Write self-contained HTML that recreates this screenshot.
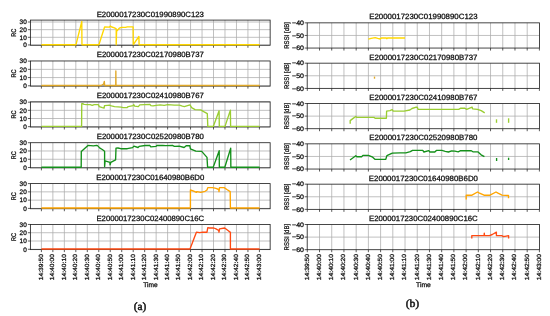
<!DOCTYPE html>
<html><head><meta charset="utf-8"><style>
html,body{margin:0;padding:0;background:#fff;width:550px;height:316px;overflow:hidden}
text{paint-order:stroke}
svg{display:block;will-change:transform}
</style></head><body>
<svg width="550" height="316" viewBox="0 0 550 316">
<rect width="550" height="316" fill="#fff"/>
<line x1="41.40" y1="20.10" x2="41.40" y2="45.25" stroke="#ababab" stroke-width="0.75"/>
<line x1="52.87" y1="20.10" x2="52.87" y2="45.25" stroke="#ababab" stroke-width="0.75"/>
<line x1="64.35" y1="20.10" x2="64.35" y2="45.25" stroke="#ababab" stroke-width="0.75"/>
<line x1="75.82" y1="20.10" x2="75.82" y2="45.25" stroke="#ababab" stroke-width="0.75"/>
<line x1="87.30" y1="20.10" x2="87.30" y2="45.25" stroke="#ababab" stroke-width="0.75"/>
<line x1="98.77" y1="20.10" x2="98.77" y2="45.25" stroke="#ababab" stroke-width="0.75"/>
<line x1="110.24" y1="20.10" x2="110.24" y2="45.25" stroke="#ababab" stroke-width="0.75"/>
<line x1="121.72" y1="20.10" x2="121.72" y2="45.25" stroke="#ababab" stroke-width="0.75"/>
<line x1="133.19" y1="20.10" x2="133.19" y2="45.25" stroke="#ababab" stroke-width="0.75"/>
<line x1="144.67" y1="20.10" x2="144.67" y2="45.25" stroke="#ababab" stroke-width="0.75"/>
<line x1="156.14" y1="20.10" x2="156.14" y2="45.25" stroke="#ababab" stroke-width="0.75"/>
<line x1="167.61" y1="20.10" x2="167.61" y2="45.25" stroke="#ababab" stroke-width="0.75"/>
<line x1="179.09" y1="20.10" x2="179.09" y2="45.25" stroke="#ababab" stroke-width="0.75"/>
<line x1="190.56" y1="20.10" x2="190.56" y2="45.25" stroke="#ababab" stroke-width="0.75"/>
<line x1="202.04" y1="20.10" x2="202.04" y2="45.25" stroke="#ababab" stroke-width="0.75"/>
<line x1="213.51" y1="20.10" x2="213.51" y2="45.25" stroke="#ababab" stroke-width="0.75"/>
<line x1="224.98" y1="20.10" x2="224.98" y2="45.25" stroke="#ababab" stroke-width="0.75"/>
<line x1="236.46" y1="20.10" x2="236.46" y2="45.25" stroke="#ababab" stroke-width="0.75"/>
<line x1="247.93" y1="20.10" x2="247.93" y2="45.25" stroke="#ababab" stroke-width="0.75"/>
<line x1="259.41" y1="20.10" x2="259.41" y2="45.25" stroke="#ababab" stroke-width="0.75"/>
<line x1="30.40" y1="44.94" x2="270.15" y2="44.94" stroke="#ababab" stroke-width="0.75"/>
<line x1="30.40" y1="37.30" x2="270.15" y2="37.30" stroke="#ababab" stroke-width="0.75"/>
<line x1="30.40" y1="29.66" x2="270.15" y2="29.66" stroke="#ababab" stroke-width="0.75"/>
<line x1="30.40" y1="22.01" x2="270.15" y2="22.01" stroke="#ababab" stroke-width="0.75"/>
<rect x="30.40" y="20.10" width="239.75" height="25.15" fill="none" stroke="#262626" stroke-width="0.85"/>
<line x1="41.40" y1="45.25" x2="41.40" y2="47.75" stroke="#262626" stroke-width="0.75"/>
<line x1="52.87" y1="45.25" x2="52.87" y2="47.75" stroke="#262626" stroke-width="0.75"/>
<line x1="64.35" y1="45.25" x2="64.35" y2="47.75" stroke="#262626" stroke-width="0.75"/>
<line x1="75.82" y1="45.25" x2="75.82" y2="47.75" stroke="#262626" stroke-width="0.75"/>
<line x1="87.30" y1="45.25" x2="87.30" y2="47.75" stroke="#262626" stroke-width="0.75"/>
<line x1="98.77" y1="45.25" x2="98.77" y2="47.75" stroke="#262626" stroke-width="0.75"/>
<line x1="110.24" y1="45.25" x2="110.24" y2="47.75" stroke="#262626" stroke-width="0.75"/>
<line x1="121.72" y1="45.25" x2="121.72" y2="47.75" stroke="#262626" stroke-width="0.75"/>
<line x1="133.19" y1="45.25" x2="133.19" y2="47.75" stroke="#262626" stroke-width="0.75"/>
<line x1="144.67" y1="45.25" x2="144.67" y2="47.75" stroke="#262626" stroke-width="0.75"/>
<line x1="156.14" y1="45.25" x2="156.14" y2="47.75" stroke="#262626" stroke-width="0.75"/>
<line x1="167.61" y1="45.25" x2="167.61" y2="47.75" stroke="#262626" stroke-width="0.75"/>
<line x1="179.09" y1="45.25" x2="179.09" y2="47.75" stroke="#262626" stroke-width="0.75"/>
<line x1="190.56" y1="45.25" x2="190.56" y2="47.75" stroke="#262626" stroke-width="0.75"/>
<line x1="202.04" y1="45.25" x2="202.04" y2="47.75" stroke="#262626" stroke-width="0.75"/>
<line x1="213.51" y1="45.25" x2="213.51" y2="47.75" stroke="#262626" stroke-width="0.75"/>
<line x1="224.98" y1="45.25" x2="224.98" y2="47.75" stroke="#262626" stroke-width="0.75"/>
<line x1="236.46" y1="45.25" x2="236.46" y2="47.75" stroke="#262626" stroke-width="0.75"/>
<line x1="247.93" y1="45.25" x2="247.93" y2="47.75" stroke="#262626" stroke-width="0.75"/>
<line x1="259.41" y1="45.25" x2="259.41" y2="47.75" stroke="#262626" stroke-width="0.75"/>
<line x1="27.90" y1="44.94" x2="30.40" y2="44.94" stroke="#262626" stroke-width="0.75"/>
<text transform="translate(26.75,47.25) scale(0.1)" font-size="65.00" text-anchor="end" fill="#111" stroke="#111" stroke-width="2.80" style="text-rendering:geometricPrecision" font-family='"Liberation Sans", sans-serif' textLength="35.74" lengthAdjust="spacingAndGlyphs">0</text>
<line x1="27.90" y1="37.30" x2="30.40" y2="37.30" stroke="#262626" stroke-width="0.75"/>
<text transform="translate(26.75,39.61) scale(0.1)" font-size="65.00" text-anchor="end" fill="#111" stroke="#111" stroke-width="2.80" style="text-rendering:geometricPrecision" font-family='"Liberation Sans", sans-serif' textLength="71.49" lengthAdjust="spacingAndGlyphs">10</text>
<line x1="27.90" y1="29.66" x2="30.40" y2="29.66" stroke="#262626" stroke-width="0.75"/>
<text transform="translate(26.75,31.96) scale(0.1)" font-size="65.00" text-anchor="end" fill="#111" stroke="#111" stroke-width="2.80" style="text-rendering:geometricPrecision" font-family='"Liberation Sans", sans-serif' textLength="71.49" lengthAdjust="spacingAndGlyphs">20</text>
<line x1="27.90" y1="22.01" x2="30.40" y2="22.01" stroke="#262626" stroke-width="0.75"/>
<text transform="translate(26.75,24.32) scale(0.1)" font-size="65.00" text-anchor="end" fill="#111" stroke="#111" stroke-width="2.80" style="text-rendering:geometricPrecision" font-family='"Liberation Sans", sans-serif' textLength="71.49" lengthAdjust="spacingAndGlyphs">30</text>
<text transform="translate(16.35,32.67) rotate(-90) scale(0.1)" font-size="68.00" text-anchor="middle" fill="#111" stroke="#111" stroke-width="2.80" style="text-rendering:geometricPrecision" font-family='"Liberation Sans", sans-serif' textLength="80.79" lengthAdjust="spacingAndGlyphs">RC</text>
<text transform="translate(150.27,16.50) scale(0.1)" font-size="76.00" text-anchor="middle" fill="#111" stroke="#111" stroke-width="2.80" style="text-rendering:geometricPrecision" font-family='"Liberation Sans", sans-serif' textLength="1072.26" lengthAdjust="spacingAndGlyphs">E2000017230C01990890C123</text>
<polyline points="41.40,44.70 76.00,44.70 81.80,21.50 81.95,44.70 98.90,44.70 104.60,27.00 109.20,27.20 110.40,26.00 111.70,27.00 114.50,27.90 116.20,28.90 116.20,44.70 116.60,31.20 119.30,28.20 121.50,27.30 125.40,27.30 127.40,26.80 133.10,26.80 133.30,44.70 138.90,36.50 139.10,44.70 259.60,44.70" fill="none" stroke="#ffd700" stroke-width="1.35" stroke-linejoin="round" stroke-linecap="butt"/>
<line x1="41.40" y1="60.97" x2="41.40" y2="86.12" stroke="#ababab" stroke-width="0.75"/>
<line x1="52.87" y1="60.97" x2="52.87" y2="86.12" stroke="#ababab" stroke-width="0.75"/>
<line x1="64.35" y1="60.97" x2="64.35" y2="86.12" stroke="#ababab" stroke-width="0.75"/>
<line x1="75.82" y1="60.97" x2="75.82" y2="86.12" stroke="#ababab" stroke-width="0.75"/>
<line x1="87.30" y1="60.97" x2="87.30" y2="86.12" stroke="#ababab" stroke-width="0.75"/>
<line x1="98.77" y1="60.97" x2="98.77" y2="86.12" stroke="#ababab" stroke-width="0.75"/>
<line x1="110.24" y1="60.97" x2="110.24" y2="86.12" stroke="#ababab" stroke-width="0.75"/>
<line x1="121.72" y1="60.97" x2="121.72" y2="86.12" stroke="#ababab" stroke-width="0.75"/>
<line x1="133.19" y1="60.97" x2="133.19" y2="86.12" stroke="#ababab" stroke-width="0.75"/>
<line x1="144.67" y1="60.97" x2="144.67" y2="86.12" stroke="#ababab" stroke-width="0.75"/>
<line x1="156.14" y1="60.97" x2="156.14" y2="86.12" stroke="#ababab" stroke-width="0.75"/>
<line x1="167.61" y1="60.97" x2="167.61" y2="86.12" stroke="#ababab" stroke-width="0.75"/>
<line x1="179.09" y1="60.97" x2="179.09" y2="86.12" stroke="#ababab" stroke-width="0.75"/>
<line x1="190.56" y1="60.97" x2="190.56" y2="86.12" stroke="#ababab" stroke-width="0.75"/>
<line x1="202.04" y1="60.97" x2="202.04" y2="86.12" stroke="#ababab" stroke-width="0.75"/>
<line x1="213.51" y1="60.97" x2="213.51" y2="86.12" stroke="#ababab" stroke-width="0.75"/>
<line x1="224.98" y1="60.97" x2="224.98" y2="86.12" stroke="#ababab" stroke-width="0.75"/>
<line x1="236.46" y1="60.97" x2="236.46" y2="86.12" stroke="#ababab" stroke-width="0.75"/>
<line x1="247.93" y1="60.97" x2="247.93" y2="86.12" stroke="#ababab" stroke-width="0.75"/>
<line x1="259.41" y1="60.97" x2="259.41" y2="86.12" stroke="#ababab" stroke-width="0.75"/>
<line x1="30.40" y1="85.79" x2="270.15" y2="85.79" stroke="#ababab" stroke-width="0.75"/>
<line x1="30.40" y1="77.57" x2="270.15" y2="77.57" stroke="#ababab" stroke-width="0.75"/>
<line x1="30.40" y1="69.35" x2="270.15" y2="69.35" stroke="#ababab" stroke-width="0.75"/>
<rect x="30.40" y="60.97" width="239.75" height="25.15" fill="none" stroke="#262626" stroke-width="0.85"/>
<line x1="41.40" y1="86.12" x2="41.40" y2="88.62" stroke="#262626" stroke-width="0.75"/>
<line x1="52.87" y1="86.12" x2="52.87" y2="88.62" stroke="#262626" stroke-width="0.75"/>
<line x1="64.35" y1="86.12" x2="64.35" y2="88.62" stroke="#262626" stroke-width="0.75"/>
<line x1="75.82" y1="86.12" x2="75.82" y2="88.62" stroke="#262626" stroke-width="0.75"/>
<line x1="87.30" y1="86.12" x2="87.30" y2="88.62" stroke="#262626" stroke-width="0.75"/>
<line x1="98.77" y1="86.12" x2="98.77" y2="88.62" stroke="#262626" stroke-width="0.75"/>
<line x1="110.24" y1="86.12" x2="110.24" y2="88.62" stroke="#262626" stroke-width="0.75"/>
<line x1="121.72" y1="86.12" x2="121.72" y2="88.62" stroke="#262626" stroke-width="0.75"/>
<line x1="133.19" y1="86.12" x2="133.19" y2="88.62" stroke="#262626" stroke-width="0.75"/>
<line x1="144.67" y1="86.12" x2="144.67" y2="88.62" stroke="#262626" stroke-width="0.75"/>
<line x1="156.14" y1="86.12" x2="156.14" y2="88.62" stroke="#262626" stroke-width="0.75"/>
<line x1="167.61" y1="86.12" x2="167.61" y2="88.62" stroke="#262626" stroke-width="0.75"/>
<line x1="179.09" y1="86.12" x2="179.09" y2="88.62" stroke="#262626" stroke-width="0.75"/>
<line x1="190.56" y1="86.12" x2="190.56" y2="88.62" stroke="#262626" stroke-width="0.75"/>
<line x1="202.04" y1="86.12" x2="202.04" y2="88.62" stroke="#262626" stroke-width="0.75"/>
<line x1="213.51" y1="86.12" x2="213.51" y2="88.62" stroke="#262626" stroke-width="0.75"/>
<line x1="224.98" y1="86.12" x2="224.98" y2="88.62" stroke="#262626" stroke-width="0.75"/>
<line x1="236.46" y1="86.12" x2="236.46" y2="88.62" stroke="#262626" stroke-width="0.75"/>
<line x1="247.93" y1="86.12" x2="247.93" y2="88.62" stroke="#262626" stroke-width="0.75"/>
<line x1="259.41" y1="86.12" x2="259.41" y2="88.62" stroke="#262626" stroke-width="0.75"/>
<line x1="27.90" y1="85.79" x2="30.40" y2="85.79" stroke="#262626" stroke-width="0.75"/>
<text transform="translate(26.75,88.10) scale(0.1)" font-size="65.00" text-anchor="end" fill="#111" stroke="#111" stroke-width="2.80" style="text-rendering:geometricPrecision" font-family='"Liberation Sans", sans-serif' textLength="35.74" lengthAdjust="spacingAndGlyphs">0</text>
<line x1="27.90" y1="77.57" x2="30.40" y2="77.57" stroke="#262626" stroke-width="0.75"/>
<text transform="translate(26.75,79.88) scale(0.1)" font-size="65.00" text-anchor="end" fill="#111" stroke="#111" stroke-width="2.80" style="text-rendering:geometricPrecision" font-family='"Liberation Sans", sans-serif' textLength="71.49" lengthAdjust="spacingAndGlyphs">10</text>
<line x1="27.90" y1="69.35" x2="30.40" y2="69.35" stroke="#262626" stroke-width="0.75"/>
<text transform="translate(26.75,71.66) scale(0.1)" font-size="65.00" text-anchor="end" fill="#111" stroke="#111" stroke-width="2.80" style="text-rendering:geometricPrecision" font-family='"Liberation Sans", sans-serif' textLength="71.49" lengthAdjust="spacingAndGlyphs">20</text>
<line x1="27.90" y1="61.13" x2="30.40" y2="61.13" stroke="#262626" stroke-width="0.75"/>
<text transform="translate(26.75,63.44) scale(0.1)" font-size="65.00" text-anchor="end" fill="#111" stroke="#111" stroke-width="2.80" style="text-rendering:geometricPrecision" font-family='"Liberation Sans", sans-serif' textLength="71.49" lengthAdjust="spacingAndGlyphs">30</text>
<text transform="translate(16.35,73.55) rotate(-90) scale(0.1)" font-size="68.00" text-anchor="middle" fill="#111" stroke="#111" stroke-width="2.80" style="text-rendering:geometricPrecision" font-family='"Liberation Sans", sans-serif' textLength="80.79" lengthAdjust="spacingAndGlyphs">RC</text>
<text transform="translate(150.27,57.37) scale(0.1)" font-size="76.00" text-anchor="middle" fill="#111" stroke="#111" stroke-width="2.80" style="text-rendering:geometricPrecision" font-family='"Liberation Sans", sans-serif' textLength="1071.43" lengthAdjust="spacingAndGlyphs">E2000017230C02170980B737</text>
<polyline points="41.40,85.50 101.00,85.50 103.60,84.10 104.30,81.40 104.70,85.50 115.75,85.50 115.85,70.90 116.00,85.50 259.70,85.50" fill="none" stroke="#e0a828" stroke-width="1.35" stroke-linejoin="round" stroke-linecap="butt"/>
<line x1="41.40" y1="101.84" x2="41.40" y2="126.99" stroke="#ababab" stroke-width="0.75"/>
<line x1="52.87" y1="101.84" x2="52.87" y2="126.99" stroke="#ababab" stroke-width="0.75"/>
<line x1="64.35" y1="101.84" x2="64.35" y2="126.99" stroke="#ababab" stroke-width="0.75"/>
<line x1="75.82" y1="101.84" x2="75.82" y2="126.99" stroke="#ababab" stroke-width="0.75"/>
<line x1="87.30" y1="101.84" x2="87.30" y2="126.99" stroke="#ababab" stroke-width="0.75"/>
<line x1="98.77" y1="101.84" x2="98.77" y2="126.99" stroke="#ababab" stroke-width="0.75"/>
<line x1="110.24" y1="101.84" x2="110.24" y2="126.99" stroke="#ababab" stroke-width="0.75"/>
<line x1="121.72" y1="101.84" x2="121.72" y2="126.99" stroke="#ababab" stroke-width="0.75"/>
<line x1="133.19" y1="101.84" x2="133.19" y2="126.99" stroke="#ababab" stroke-width="0.75"/>
<line x1="144.67" y1="101.84" x2="144.67" y2="126.99" stroke="#ababab" stroke-width="0.75"/>
<line x1="156.14" y1="101.84" x2="156.14" y2="126.99" stroke="#ababab" stroke-width="0.75"/>
<line x1="167.61" y1="101.84" x2="167.61" y2="126.99" stroke="#ababab" stroke-width="0.75"/>
<line x1="179.09" y1="101.84" x2="179.09" y2="126.99" stroke="#ababab" stroke-width="0.75"/>
<line x1="190.56" y1="101.84" x2="190.56" y2="126.99" stroke="#ababab" stroke-width="0.75"/>
<line x1="202.04" y1="101.84" x2="202.04" y2="126.99" stroke="#ababab" stroke-width="0.75"/>
<line x1="213.51" y1="101.84" x2="213.51" y2="126.99" stroke="#ababab" stroke-width="0.75"/>
<line x1="224.98" y1="101.84" x2="224.98" y2="126.99" stroke="#ababab" stroke-width="0.75"/>
<line x1="236.46" y1="101.84" x2="236.46" y2="126.99" stroke="#ababab" stroke-width="0.75"/>
<line x1="247.93" y1="101.84" x2="247.93" y2="126.99" stroke="#ababab" stroke-width="0.75"/>
<line x1="259.41" y1="101.84" x2="259.41" y2="126.99" stroke="#ababab" stroke-width="0.75"/>
<line x1="30.40" y1="126.66" x2="270.15" y2="126.66" stroke="#ababab" stroke-width="0.75"/>
<line x1="30.40" y1="118.50" x2="270.15" y2="118.50" stroke="#ababab" stroke-width="0.75"/>
<line x1="30.40" y1="110.33" x2="270.15" y2="110.33" stroke="#ababab" stroke-width="0.75"/>
<line x1="30.40" y1="102.17" x2="270.15" y2="102.17" stroke="#ababab" stroke-width="0.75"/>
<rect x="30.40" y="101.84" width="239.75" height="25.15" fill="none" stroke="#262626" stroke-width="0.85"/>
<line x1="41.40" y1="126.99" x2="41.40" y2="129.49" stroke="#262626" stroke-width="0.75"/>
<line x1="52.87" y1="126.99" x2="52.87" y2="129.49" stroke="#262626" stroke-width="0.75"/>
<line x1="64.35" y1="126.99" x2="64.35" y2="129.49" stroke="#262626" stroke-width="0.75"/>
<line x1="75.82" y1="126.99" x2="75.82" y2="129.49" stroke="#262626" stroke-width="0.75"/>
<line x1="87.30" y1="126.99" x2="87.30" y2="129.49" stroke="#262626" stroke-width="0.75"/>
<line x1="98.77" y1="126.99" x2="98.77" y2="129.49" stroke="#262626" stroke-width="0.75"/>
<line x1="110.24" y1="126.99" x2="110.24" y2="129.49" stroke="#262626" stroke-width="0.75"/>
<line x1="121.72" y1="126.99" x2="121.72" y2="129.49" stroke="#262626" stroke-width="0.75"/>
<line x1="133.19" y1="126.99" x2="133.19" y2="129.49" stroke="#262626" stroke-width="0.75"/>
<line x1="144.67" y1="126.99" x2="144.67" y2="129.49" stroke="#262626" stroke-width="0.75"/>
<line x1="156.14" y1="126.99" x2="156.14" y2="129.49" stroke="#262626" stroke-width="0.75"/>
<line x1="167.61" y1="126.99" x2="167.61" y2="129.49" stroke="#262626" stroke-width="0.75"/>
<line x1="179.09" y1="126.99" x2="179.09" y2="129.49" stroke="#262626" stroke-width="0.75"/>
<line x1="190.56" y1="126.99" x2="190.56" y2="129.49" stroke="#262626" stroke-width="0.75"/>
<line x1="202.04" y1="126.99" x2="202.04" y2="129.49" stroke="#262626" stroke-width="0.75"/>
<line x1="213.51" y1="126.99" x2="213.51" y2="129.49" stroke="#262626" stroke-width="0.75"/>
<line x1="224.98" y1="126.99" x2="224.98" y2="129.49" stroke="#262626" stroke-width="0.75"/>
<line x1="236.46" y1="126.99" x2="236.46" y2="129.49" stroke="#262626" stroke-width="0.75"/>
<line x1="247.93" y1="126.99" x2="247.93" y2="129.49" stroke="#262626" stroke-width="0.75"/>
<line x1="259.41" y1="126.99" x2="259.41" y2="129.49" stroke="#262626" stroke-width="0.75"/>
<line x1="27.90" y1="126.66" x2="30.40" y2="126.66" stroke="#262626" stroke-width="0.75"/>
<text transform="translate(26.75,128.97) scale(0.1)" font-size="65.00" text-anchor="end" fill="#111" stroke="#111" stroke-width="2.80" style="text-rendering:geometricPrecision" font-family='"Liberation Sans", sans-serif' textLength="35.74" lengthAdjust="spacingAndGlyphs">0</text>
<line x1="27.90" y1="118.50" x2="30.40" y2="118.50" stroke="#262626" stroke-width="0.75"/>
<text transform="translate(26.75,120.81) scale(0.1)" font-size="65.00" text-anchor="end" fill="#111" stroke="#111" stroke-width="2.80" style="text-rendering:geometricPrecision" font-family='"Liberation Sans", sans-serif' textLength="71.49" lengthAdjust="spacingAndGlyphs">10</text>
<line x1="27.90" y1="110.33" x2="30.40" y2="110.33" stroke="#262626" stroke-width="0.75"/>
<text transform="translate(26.75,112.64) scale(0.1)" font-size="65.00" text-anchor="end" fill="#111" stroke="#111" stroke-width="2.80" style="text-rendering:geometricPrecision" font-family='"Liberation Sans", sans-serif' textLength="71.49" lengthAdjust="spacingAndGlyphs">20</text>
<line x1="27.90" y1="102.17" x2="30.40" y2="102.17" stroke="#262626" stroke-width="0.75"/>
<text transform="translate(26.75,104.47) scale(0.1)" font-size="65.00" text-anchor="end" fill="#111" stroke="#111" stroke-width="2.80" style="text-rendering:geometricPrecision" font-family='"Liberation Sans", sans-serif' textLength="71.49" lengthAdjust="spacingAndGlyphs">30</text>
<text transform="translate(16.35,114.42) rotate(-90) scale(0.1)" font-size="68.00" text-anchor="middle" fill="#111" stroke="#111" stroke-width="2.80" style="text-rendering:geometricPrecision" font-family='"Liberation Sans", sans-serif' textLength="80.79" lengthAdjust="spacingAndGlyphs">RC</text>
<text transform="translate(150.27,98.24) scale(0.1)" font-size="76.00" text-anchor="middle" fill="#111" stroke="#111" stroke-width="2.80" style="text-rendering:geometricPrecision" font-family='"Liberation Sans", sans-serif' textLength="1071.43" lengthAdjust="spacingAndGlyphs">E2000017230C02410980B767</text>
<polyline points="41.40,126.40 81.60,126.40 81.75,103.60 82.60,103.60 84.10,104.30 87.10,104.60 90.20,104.60 92.20,105.30 94.20,104.60 98.30,104.60 99.30,106.60 102.30,107.60 104.10,108.10 104.50,105.60 107.40,105.30 109.40,105.10 111.40,105.90 114.50,106.60 118.00,106.90 121.10,107.10 123.10,107.60 127.20,107.60 128.20,106.60 133.20,105.60 133.70,104.60 134.70,106.10 138.30,106.60 139.80,104.90 144.40,104.60 149.90,104.30 150.90,105.60 153.00,105.90 156.10,105.30 160.10,104.90 164.20,105.30 167.70,104.60 174.30,105.10 179.40,105.10 182.40,106.10 184.40,106.60 187.50,105.60 190.00,104.90 191.60,107.60 195.10,109.60 200.70,109.90 203.70,111.70 207.30,113.70 207.80,126.40 213.30,126.40 219.10,110.80 219.30,126.40 225.00,126.40 230.40,110.10 230.60,126.40 259.60,126.40" fill="none" stroke="#9acd32" stroke-width="1.35" stroke-linejoin="round" stroke-linecap="butt"/>
<line x1="41.40" y1="142.71" x2="41.40" y2="167.86" stroke="#ababab" stroke-width="0.75"/>
<line x1="52.87" y1="142.71" x2="52.87" y2="167.86" stroke="#ababab" stroke-width="0.75"/>
<line x1="64.35" y1="142.71" x2="64.35" y2="167.86" stroke="#ababab" stroke-width="0.75"/>
<line x1="75.82" y1="142.71" x2="75.82" y2="167.86" stroke="#ababab" stroke-width="0.75"/>
<line x1="87.30" y1="142.71" x2="87.30" y2="167.86" stroke="#ababab" stroke-width="0.75"/>
<line x1="98.77" y1="142.71" x2="98.77" y2="167.86" stroke="#ababab" stroke-width="0.75"/>
<line x1="110.24" y1="142.71" x2="110.24" y2="167.86" stroke="#ababab" stroke-width="0.75"/>
<line x1="121.72" y1="142.71" x2="121.72" y2="167.86" stroke="#ababab" stroke-width="0.75"/>
<line x1="133.19" y1="142.71" x2="133.19" y2="167.86" stroke="#ababab" stroke-width="0.75"/>
<line x1="144.67" y1="142.71" x2="144.67" y2="167.86" stroke="#ababab" stroke-width="0.75"/>
<line x1="156.14" y1="142.71" x2="156.14" y2="167.86" stroke="#ababab" stroke-width="0.75"/>
<line x1="167.61" y1="142.71" x2="167.61" y2="167.86" stroke="#ababab" stroke-width="0.75"/>
<line x1="179.09" y1="142.71" x2="179.09" y2="167.86" stroke="#ababab" stroke-width="0.75"/>
<line x1="190.56" y1="142.71" x2="190.56" y2="167.86" stroke="#ababab" stroke-width="0.75"/>
<line x1="202.04" y1="142.71" x2="202.04" y2="167.86" stroke="#ababab" stroke-width="0.75"/>
<line x1="213.51" y1="142.71" x2="213.51" y2="167.86" stroke="#ababab" stroke-width="0.75"/>
<line x1="224.98" y1="142.71" x2="224.98" y2="167.86" stroke="#ababab" stroke-width="0.75"/>
<line x1="236.46" y1="142.71" x2="236.46" y2="167.86" stroke="#ababab" stroke-width="0.75"/>
<line x1="247.93" y1="142.71" x2="247.93" y2="167.86" stroke="#ababab" stroke-width="0.75"/>
<line x1="259.41" y1="142.71" x2="259.41" y2="167.86" stroke="#ababab" stroke-width="0.75"/>
<line x1="30.40" y1="167.53" x2="270.15" y2="167.53" stroke="#ababab" stroke-width="0.75"/>
<line x1="30.40" y1="159.26" x2="270.15" y2="159.26" stroke="#ababab" stroke-width="0.75"/>
<line x1="30.40" y1="150.98" x2="270.15" y2="150.98" stroke="#ababab" stroke-width="0.75"/>
<rect x="30.40" y="142.71" width="239.75" height="25.15" fill="none" stroke="#262626" stroke-width="0.85"/>
<line x1="41.40" y1="167.86" x2="41.40" y2="170.36" stroke="#262626" stroke-width="0.75"/>
<line x1="52.87" y1="167.86" x2="52.87" y2="170.36" stroke="#262626" stroke-width="0.75"/>
<line x1="64.35" y1="167.86" x2="64.35" y2="170.36" stroke="#262626" stroke-width="0.75"/>
<line x1="75.82" y1="167.86" x2="75.82" y2="170.36" stroke="#262626" stroke-width="0.75"/>
<line x1="87.30" y1="167.86" x2="87.30" y2="170.36" stroke="#262626" stroke-width="0.75"/>
<line x1="98.77" y1="167.86" x2="98.77" y2="170.36" stroke="#262626" stroke-width="0.75"/>
<line x1="110.24" y1="167.86" x2="110.24" y2="170.36" stroke="#262626" stroke-width="0.75"/>
<line x1="121.72" y1="167.86" x2="121.72" y2="170.36" stroke="#262626" stroke-width="0.75"/>
<line x1="133.19" y1="167.86" x2="133.19" y2="170.36" stroke="#262626" stroke-width="0.75"/>
<line x1="144.67" y1="167.86" x2="144.67" y2="170.36" stroke="#262626" stroke-width="0.75"/>
<line x1="156.14" y1="167.86" x2="156.14" y2="170.36" stroke="#262626" stroke-width="0.75"/>
<line x1="167.61" y1="167.86" x2="167.61" y2="170.36" stroke="#262626" stroke-width="0.75"/>
<line x1="179.09" y1="167.86" x2="179.09" y2="170.36" stroke="#262626" stroke-width="0.75"/>
<line x1="190.56" y1="167.86" x2="190.56" y2="170.36" stroke="#262626" stroke-width="0.75"/>
<line x1="202.04" y1="167.86" x2="202.04" y2="170.36" stroke="#262626" stroke-width="0.75"/>
<line x1="213.51" y1="167.86" x2="213.51" y2="170.36" stroke="#262626" stroke-width="0.75"/>
<line x1="224.98" y1="167.86" x2="224.98" y2="170.36" stroke="#262626" stroke-width="0.75"/>
<line x1="236.46" y1="167.86" x2="236.46" y2="170.36" stroke="#262626" stroke-width="0.75"/>
<line x1="247.93" y1="167.86" x2="247.93" y2="170.36" stroke="#262626" stroke-width="0.75"/>
<line x1="259.41" y1="167.86" x2="259.41" y2="170.36" stroke="#262626" stroke-width="0.75"/>
<line x1="27.90" y1="167.53" x2="30.40" y2="167.53" stroke="#262626" stroke-width="0.75"/>
<text transform="translate(26.75,169.84) scale(0.1)" font-size="65.00" text-anchor="end" fill="#111" stroke="#111" stroke-width="2.80" style="text-rendering:geometricPrecision" font-family='"Liberation Sans", sans-serif' textLength="35.74" lengthAdjust="spacingAndGlyphs">0</text>
<line x1="27.90" y1="159.26" x2="30.40" y2="159.26" stroke="#262626" stroke-width="0.75"/>
<text transform="translate(26.75,161.56) scale(0.1)" font-size="65.00" text-anchor="end" fill="#111" stroke="#111" stroke-width="2.80" style="text-rendering:geometricPrecision" font-family='"Liberation Sans", sans-serif' textLength="71.49" lengthAdjust="spacingAndGlyphs">10</text>
<line x1="27.90" y1="150.98" x2="30.40" y2="150.98" stroke="#262626" stroke-width="0.75"/>
<text transform="translate(26.75,153.29) scale(0.1)" font-size="65.00" text-anchor="end" fill="#111" stroke="#111" stroke-width="2.80" style="text-rendering:geometricPrecision" font-family='"Liberation Sans", sans-serif' textLength="71.49" lengthAdjust="spacingAndGlyphs">20</text>
<line x1="27.90" y1="142.71" x2="30.40" y2="142.71" stroke="#262626" stroke-width="0.75"/>
<text transform="translate(26.75,145.02) scale(0.1)" font-size="65.00" text-anchor="end" fill="#111" stroke="#111" stroke-width="2.80" style="text-rendering:geometricPrecision" font-family='"Liberation Sans", sans-serif' textLength="71.49" lengthAdjust="spacingAndGlyphs">30</text>
<text transform="translate(16.35,155.28) rotate(-90) scale(0.1)" font-size="68.00" text-anchor="middle" fill="#111" stroke="#111" stroke-width="2.80" style="text-rendering:geometricPrecision" font-family='"Liberation Sans", sans-serif' textLength="80.79" lengthAdjust="spacingAndGlyphs">RC</text>
<text transform="translate(150.27,139.11) scale(0.1)" font-size="76.00" text-anchor="middle" fill="#111" stroke="#111" stroke-width="2.80" style="text-rendering:geometricPrecision" font-family='"Liberation Sans", sans-serif' textLength="1071.43" lengthAdjust="spacingAndGlyphs">E2000017230C02520980B780</text>
<polyline points="41.40,167.20 81.20,167.20 81.30,151.60 88.00,145.40 93.40,145.90 96.70,145.40 97.50,145.60 99.90,148.10 102.30,149.50 104.60,151.20 104.60,166.60 105.10,160.90 109.90,162.30 110.10,164.90 110.80,162.30 115.60,159.90 116.00,148.10 117.90,148.00 120.80,148.70 127.30,148.70 132.60,147.60 133.90,146.10 138.00,147.50 139.10,146.40 145.00,145.50 149.70,145.30 150.80,146.80 156.10,146.40 156.70,145.50 162.60,145.30 165.80,145.70 172.30,145.30 174.40,146.40 179.20,146.10 184.10,147.50 186.20,145.70 189.80,145.70 190.40,148.80 195.80,151.10 201.70,151.40 207.00,157.40 207.60,167.20 213.20,167.20 219.20,150.70 219.35,167.20 224.80,167.20 230.70,148.20 230.85,167.20 259.60,167.20" fill="none" stroke="#14901a" stroke-width="1.35" stroke-linejoin="round" stroke-linecap="butt"/>
<line x1="41.40" y1="183.58" x2="41.40" y2="208.73" stroke="#ababab" stroke-width="0.75"/>
<line x1="52.87" y1="183.58" x2="52.87" y2="208.73" stroke="#ababab" stroke-width="0.75"/>
<line x1="64.35" y1="183.58" x2="64.35" y2="208.73" stroke="#ababab" stroke-width="0.75"/>
<line x1="75.82" y1="183.58" x2="75.82" y2="208.73" stroke="#ababab" stroke-width="0.75"/>
<line x1="87.30" y1="183.58" x2="87.30" y2="208.73" stroke="#ababab" stroke-width="0.75"/>
<line x1="98.77" y1="183.58" x2="98.77" y2="208.73" stroke="#ababab" stroke-width="0.75"/>
<line x1="110.24" y1="183.58" x2="110.24" y2="208.73" stroke="#ababab" stroke-width="0.75"/>
<line x1="121.72" y1="183.58" x2="121.72" y2="208.73" stroke="#ababab" stroke-width="0.75"/>
<line x1="133.19" y1="183.58" x2="133.19" y2="208.73" stroke="#ababab" stroke-width="0.75"/>
<line x1="144.67" y1="183.58" x2="144.67" y2="208.73" stroke="#ababab" stroke-width="0.75"/>
<line x1="156.14" y1="183.58" x2="156.14" y2="208.73" stroke="#ababab" stroke-width="0.75"/>
<line x1="167.61" y1="183.58" x2="167.61" y2="208.73" stroke="#ababab" stroke-width="0.75"/>
<line x1="179.09" y1="183.58" x2="179.09" y2="208.73" stroke="#ababab" stroke-width="0.75"/>
<line x1="190.56" y1="183.58" x2="190.56" y2="208.73" stroke="#ababab" stroke-width="0.75"/>
<line x1="202.04" y1="183.58" x2="202.04" y2="208.73" stroke="#ababab" stroke-width="0.75"/>
<line x1="213.51" y1="183.58" x2="213.51" y2="208.73" stroke="#ababab" stroke-width="0.75"/>
<line x1="224.98" y1="183.58" x2="224.98" y2="208.73" stroke="#ababab" stroke-width="0.75"/>
<line x1="236.46" y1="183.58" x2="236.46" y2="208.73" stroke="#ababab" stroke-width="0.75"/>
<line x1="247.93" y1="183.58" x2="247.93" y2="208.73" stroke="#ababab" stroke-width="0.75"/>
<line x1="259.41" y1="183.58" x2="259.41" y2="208.73" stroke="#ababab" stroke-width="0.75"/>
<line x1="30.40" y1="208.40" x2="270.15" y2="208.40" stroke="#ababab" stroke-width="0.75"/>
<line x1="30.40" y1="200.13" x2="270.15" y2="200.13" stroke="#ababab" stroke-width="0.75"/>
<line x1="30.40" y1="191.85" x2="270.15" y2="191.85" stroke="#ababab" stroke-width="0.75"/>
<rect x="30.40" y="183.58" width="239.75" height="25.15" fill="none" stroke="#262626" stroke-width="0.85"/>
<line x1="41.40" y1="208.73" x2="41.40" y2="211.23" stroke="#262626" stroke-width="0.75"/>
<line x1="52.87" y1="208.73" x2="52.87" y2="211.23" stroke="#262626" stroke-width="0.75"/>
<line x1="64.35" y1="208.73" x2="64.35" y2="211.23" stroke="#262626" stroke-width="0.75"/>
<line x1="75.82" y1="208.73" x2="75.82" y2="211.23" stroke="#262626" stroke-width="0.75"/>
<line x1="87.30" y1="208.73" x2="87.30" y2="211.23" stroke="#262626" stroke-width="0.75"/>
<line x1="98.77" y1="208.73" x2="98.77" y2="211.23" stroke="#262626" stroke-width="0.75"/>
<line x1="110.24" y1="208.73" x2="110.24" y2="211.23" stroke="#262626" stroke-width="0.75"/>
<line x1="121.72" y1="208.73" x2="121.72" y2="211.23" stroke="#262626" stroke-width="0.75"/>
<line x1="133.19" y1="208.73" x2="133.19" y2="211.23" stroke="#262626" stroke-width="0.75"/>
<line x1="144.67" y1="208.73" x2="144.67" y2="211.23" stroke="#262626" stroke-width="0.75"/>
<line x1="156.14" y1="208.73" x2="156.14" y2="211.23" stroke="#262626" stroke-width="0.75"/>
<line x1="167.61" y1="208.73" x2="167.61" y2="211.23" stroke="#262626" stroke-width="0.75"/>
<line x1="179.09" y1="208.73" x2="179.09" y2="211.23" stroke="#262626" stroke-width="0.75"/>
<line x1="190.56" y1="208.73" x2="190.56" y2="211.23" stroke="#262626" stroke-width="0.75"/>
<line x1="202.04" y1="208.73" x2="202.04" y2="211.23" stroke="#262626" stroke-width="0.75"/>
<line x1="213.51" y1="208.73" x2="213.51" y2="211.23" stroke="#262626" stroke-width="0.75"/>
<line x1="224.98" y1="208.73" x2="224.98" y2="211.23" stroke="#262626" stroke-width="0.75"/>
<line x1="236.46" y1="208.73" x2="236.46" y2="211.23" stroke="#262626" stroke-width="0.75"/>
<line x1="247.93" y1="208.73" x2="247.93" y2="211.23" stroke="#262626" stroke-width="0.75"/>
<line x1="259.41" y1="208.73" x2="259.41" y2="211.23" stroke="#262626" stroke-width="0.75"/>
<line x1="27.90" y1="208.40" x2="30.40" y2="208.40" stroke="#262626" stroke-width="0.75"/>
<text transform="translate(26.75,210.71) scale(0.1)" font-size="65.00" text-anchor="end" fill="#111" stroke="#111" stroke-width="2.80" style="text-rendering:geometricPrecision" font-family='"Liberation Sans", sans-serif' textLength="35.74" lengthAdjust="spacingAndGlyphs">0</text>
<line x1="27.90" y1="200.13" x2="30.40" y2="200.13" stroke="#262626" stroke-width="0.75"/>
<text transform="translate(26.75,202.43) scale(0.1)" font-size="65.00" text-anchor="end" fill="#111" stroke="#111" stroke-width="2.80" style="text-rendering:geometricPrecision" font-family='"Liberation Sans", sans-serif' textLength="71.49" lengthAdjust="spacingAndGlyphs">10</text>
<line x1="27.90" y1="191.85" x2="30.40" y2="191.85" stroke="#262626" stroke-width="0.75"/>
<text transform="translate(26.75,194.16) scale(0.1)" font-size="65.00" text-anchor="end" fill="#111" stroke="#111" stroke-width="2.80" style="text-rendering:geometricPrecision" font-family='"Liberation Sans", sans-serif' textLength="71.49" lengthAdjust="spacingAndGlyphs">20</text>
<line x1="27.90" y1="183.58" x2="30.40" y2="183.58" stroke="#262626" stroke-width="0.75"/>
<text transform="translate(26.75,185.89) scale(0.1)" font-size="65.00" text-anchor="end" fill="#111" stroke="#111" stroke-width="2.80" style="text-rendering:geometricPrecision" font-family='"Liberation Sans", sans-serif' textLength="71.49" lengthAdjust="spacingAndGlyphs">30</text>
<text transform="translate(16.35,196.15) rotate(-90) scale(0.1)" font-size="68.00" text-anchor="middle" fill="#111" stroke="#111" stroke-width="2.80" style="text-rendering:geometricPrecision" font-family='"Liberation Sans", sans-serif' textLength="80.79" lengthAdjust="spacingAndGlyphs">RC</text>
<text transform="translate(150.27,179.98) scale(0.1)" font-size="76.00" text-anchor="middle" fill="#111" stroke="#111" stroke-width="2.80" style="text-rendering:geometricPrecision" font-family='"Liberation Sans", sans-serif' textLength="1080.77" lengthAdjust="spacingAndGlyphs">E2000017230C01640980B6D0</text>
<polyline points="41.40,208.00 190.40,208.00 190.40,190.00 193.10,190.90 196.40,192.40 196.90,191.60 200.70,192.40 205.10,191.30 207.00,190.00 207.80,187.60 212.70,187.60 216.00,188.40 218.70,189.50 219.00,191.60 219.50,187.60 224.20,187.60 226.90,189.50 230.20,191.60 230.40,208.00 259.60,208.00" fill="none" stroke="#ffa500" stroke-width="1.35" stroke-linejoin="round" stroke-linecap="butt"/>
<line x1="41.40" y1="224.45" x2="41.40" y2="249.60" stroke="#ababab" stroke-width="0.75"/>
<line x1="52.87" y1="224.45" x2="52.87" y2="249.60" stroke="#ababab" stroke-width="0.75"/>
<line x1="64.35" y1="224.45" x2="64.35" y2="249.60" stroke="#ababab" stroke-width="0.75"/>
<line x1="75.82" y1="224.45" x2="75.82" y2="249.60" stroke="#ababab" stroke-width="0.75"/>
<line x1="87.30" y1="224.45" x2="87.30" y2="249.60" stroke="#ababab" stroke-width="0.75"/>
<line x1="98.77" y1="224.45" x2="98.77" y2="249.60" stroke="#ababab" stroke-width="0.75"/>
<line x1="110.24" y1="224.45" x2="110.24" y2="249.60" stroke="#ababab" stroke-width="0.75"/>
<line x1="121.72" y1="224.45" x2="121.72" y2="249.60" stroke="#ababab" stroke-width="0.75"/>
<line x1="133.19" y1="224.45" x2="133.19" y2="249.60" stroke="#ababab" stroke-width="0.75"/>
<line x1="144.67" y1="224.45" x2="144.67" y2="249.60" stroke="#ababab" stroke-width="0.75"/>
<line x1="156.14" y1="224.45" x2="156.14" y2="249.60" stroke="#ababab" stroke-width="0.75"/>
<line x1="167.61" y1="224.45" x2="167.61" y2="249.60" stroke="#ababab" stroke-width="0.75"/>
<line x1="179.09" y1="224.45" x2="179.09" y2="249.60" stroke="#ababab" stroke-width="0.75"/>
<line x1="190.56" y1="224.45" x2="190.56" y2="249.60" stroke="#ababab" stroke-width="0.75"/>
<line x1="202.04" y1="224.45" x2="202.04" y2="249.60" stroke="#ababab" stroke-width="0.75"/>
<line x1="213.51" y1="224.45" x2="213.51" y2="249.60" stroke="#ababab" stroke-width="0.75"/>
<line x1="224.98" y1="224.45" x2="224.98" y2="249.60" stroke="#ababab" stroke-width="0.75"/>
<line x1="236.46" y1="224.45" x2="236.46" y2="249.60" stroke="#ababab" stroke-width="0.75"/>
<line x1="247.93" y1="224.45" x2="247.93" y2="249.60" stroke="#ababab" stroke-width="0.75"/>
<line x1="259.41" y1="224.45" x2="259.41" y2="249.60" stroke="#ababab" stroke-width="0.75"/>
<line x1="30.40" y1="249.27" x2="270.15" y2="249.27" stroke="#ababab" stroke-width="0.75"/>
<line x1="30.40" y1="241.00" x2="270.15" y2="241.00" stroke="#ababab" stroke-width="0.75"/>
<line x1="30.40" y1="232.72" x2="270.15" y2="232.72" stroke="#ababab" stroke-width="0.75"/>
<rect x="30.40" y="224.45" width="239.75" height="25.15" fill="none" stroke="#262626" stroke-width="0.85"/>
<line x1="41.40" y1="249.60" x2="41.40" y2="252.10" stroke="#262626" stroke-width="0.75"/>
<line x1="52.87" y1="249.60" x2="52.87" y2="252.10" stroke="#262626" stroke-width="0.75"/>
<line x1="64.35" y1="249.60" x2="64.35" y2="252.10" stroke="#262626" stroke-width="0.75"/>
<line x1="75.82" y1="249.60" x2="75.82" y2="252.10" stroke="#262626" stroke-width="0.75"/>
<line x1="87.30" y1="249.60" x2="87.30" y2="252.10" stroke="#262626" stroke-width="0.75"/>
<line x1="98.77" y1="249.60" x2="98.77" y2="252.10" stroke="#262626" stroke-width="0.75"/>
<line x1="110.24" y1="249.60" x2="110.24" y2="252.10" stroke="#262626" stroke-width="0.75"/>
<line x1="121.72" y1="249.60" x2="121.72" y2="252.10" stroke="#262626" stroke-width="0.75"/>
<line x1="133.19" y1="249.60" x2="133.19" y2="252.10" stroke="#262626" stroke-width="0.75"/>
<line x1="144.67" y1="249.60" x2="144.67" y2="252.10" stroke="#262626" stroke-width="0.75"/>
<line x1="156.14" y1="249.60" x2="156.14" y2="252.10" stroke="#262626" stroke-width="0.75"/>
<line x1="167.61" y1="249.60" x2="167.61" y2="252.10" stroke="#262626" stroke-width="0.75"/>
<line x1="179.09" y1="249.60" x2="179.09" y2="252.10" stroke="#262626" stroke-width="0.75"/>
<line x1="190.56" y1="249.60" x2="190.56" y2="252.10" stroke="#262626" stroke-width="0.75"/>
<line x1="202.04" y1="249.60" x2="202.04" y2="252.10" stroke="#262626" stroke-width="0.75"/>
<line x1="213.51" y1="249.60" x2="213.51" y2="252.10" stroke="#262626" stroke-width="0.75"/>
<line x1="224.98" y1="249.60" x2="224.98" y2="252.10" stroke="#262626" stroke-width="0.75"/>
<line x1="236.46" y1="249.60" x2="236.46" y2="252.10" stroke="#262626" stroke-width="0.75"/>
<line x1="247.93" y1="249.60" x2="247.93" y2="252.10" stroke="#262626" stroke-width="0.75"/>
<line x1="259.41" y1="249.60" x2="259.41" y2="252.10" stroke="#262626" stroke-width="0.75"/>
<line x1="27.90" y1="249.27" x2="30.40" y2="249.27" stroke="#262626" stroke-width="0.75"/>
<text transform="translate(26.75,251.58) scale(0.1)" font-size="65.00" text-anchor="end" fill="#111" stroke="#111" stroke-width="2.80" style="text-rendering:geometricPrecision" font-family='"Liberation Sans", sans-serif' textLength="35.74" lengthAdjust="spacingAndGlyphs">0</text>
<line x1="27.90" y1="241.00" x2="30.40" y2="241.00" stroke="#262626" stroke-width="0.75"/>
<text transform="translate(26.75,243.30) scale(0.1)" font-size="65.00" text-anchor="end" fill="#111" stroke="#111" stroke-width="2.80" style="text-rendering:geometricPrecision" font-family='"Liberation Sans", sans-serif' textLength="71.49" lengthAdjust="spacingAndGlyphs">10</text>
<line x1="27.90" y1="232.72" x2="30.40" y2="232.72" stroke="#262626" stroke-width="0.75"/>
<text transform="translate(26.75,235.03) scale(0.1)" font-size="65.00" text-anchor="end" fill="#111" stroke="#111" stroke-width="2.80" style="text-rendering:geometricPrecision" font-family='"Liberation Sans", sans-serif' textLength="71.49" lengthAdjust="spacingAndGlyphs">20</text>
<line x1="27.90" y1="224.45" x2="30.40" y2="224.45" stroke="#262626" stroke-width="0.75"/>
<text transform="translate(26.75,226.76) scale(0.1)" font-size="65.00" text-anchor="end" fill="#111" stroke="#111" stroke-width="2.80" style="text-rendering:geometricPrecision" font-family='"Liberation Sans", sans-serif' textLength="71.49" lengthAdjust="spacingAndGlyphs">30</text>
<text transform="translate(16.35,237.02) rotate(-90) scale(0.1)" font-size="68.00" text-anchor="middle" fill="#111" stroke="#111" stroke-width="2.80" style="text-rendering:geometricPrecision" font-family='"Liberation Sans", sans-serif' textLength="80.79" lengthAdjust="spacingAndGlyphs">RC</text>
<text transform="translate(150.27,220.85) scale(0.1)" font-size="76.00" text-anchor="middle" fill="#111" stroke="#111" stroke-width="2.80" style="text-rendering:geometricPrecision" font-family='"Liberation Sans", sans-serif' textLength="1076.59" lengthAdjust="spacingAndGlyphs">E2000017230C02400890C16C</text>
<polyline points="41.40,249.00 190.00,249.00 196.40,232.20 199.60,232.70 202.90,232.20 207.00,232.20 207.80,227.60 209.40,228.00 213.80,228.00 216.00,228.90 218.70,230.50 219.00,232.20 219.50,228.90 224.70,228.00 228.00,230.50 230.40,232.40 230.40,249.00 259.60,249.00" fill="none" stroke="#ff4a12" stroke-width="1.35" stroke-linejoin="round" stroke-linecap="butt"/>
<line x1="319.52" y1="22.85" x2="319.52" y2="48.05" stroke="#ababab" stroke-width="0.75"/>
<line x1="331.73" y1="22.85" x2="331.73" y2="48.05" stroke="#ababab" stroke-width="0.75"/>
<line x1="343.95" y1="22.85" x2="343.95" y2="48.05" stroke="#ababab" stroke-width="0.75"/>
<line x1="356.16" y1="22.85" x2="356.16" y2="48.05" stroke="#ababab" stroke-width="0.75"/>
<line x1="368.38" y1="22.85" x2="368.38" y2="48.05" stroke="#ababab" stroke-width="0.75"/>
<line x1="380.60" y1="22.85" x2="380.60" y2="48.05" stroke="#ababab" stroke-width="0.75"/>
<line x1="392.81" y1="22.85" x2="392.81" y2="48.05" stroke="#ababab" stroke-width="0.75"/>
<line x1="405.03" y1="22.85" x2="405.03" y2="48.05" stroke="#ababab" stroke-width="0.75"/>
<line x1="417.24" y1="22.85" x2="417.24" y2="48.05" stroke="#ababab" stroke-width="0.75"/>
<line x1="429.46" y1="22.85" x2="429.46" y2="48.05" stroke="#ababab" stroke-width="0.75"/>
<line x1="441.68" y1="22.85" x2="441.68" y2="48.05" stroke="#ababab" stroke-width="0.75"/>
<line x1="453.89" y1="22.85" x2="453.89" y2="48.05" stroke="#ababab" stroke-width="0.75"/>
<line x1="466.11" y1="22.85" x2="466.11" y2="48.05" stroke="#ababab" stroke-width="0.75"/>
<line x1="478.32" y1="22.85" x2="478.32" y2="48.05" stroke="#ababab" stroke-width="0.75"/>
<line x1="490.54" y1="22.85" x2="490.54" y2="48.05" stroke="#ababab" stroke-width="0.75"/>
<line x1="502.76" y1="22.85" x2="502.76" y2="48.05" stroke="#ababab" stroke-width="0.75"/>
<line x1="514.97" y1="22.85" x2="514.97" y2="48.05" stroke="#ababab" stroke-width="0.75"/>
<line x1="527.19" y1="22.85" x2="527.19" y2="48.05" stroke="#ababab" stroke-width="0.75"/>
<line x1="307.20" y1="35.45" x2="539.50" y2="35.45" stroke="#ababab" stroke-width="0.75"/>
<rect x="307.20" y="22.85" width="232.30" height="25.20" fill="none" stroke="#262626" stroke-width="0.85"/>
<line x1="307.30" y1="48.05" x2="307.30" y2="50.55" stroke="#262626" stroke-width="0.75"/>
<line x1="319.52" y1="48.05" x2="319.52" y2="50.55" stroke="#262626" stroke-width="0.75"/>
<line x1="331.73" y1="48.05" x2="331.73" y2="50.55" stroke="#262626" stroke-width="0.75"/>
<line x1="343.95" y1="48.05" x2="343.95" y2="50.55" stroke="#262626" stroke-width="0.75"/>
<line x1="356.16" y1="48.05" x2="356.16" y2="50.55" stroke="#262626" stroke-width="0.75"/>
<line x1="368.38" y1="48.05" x2="368.38" y2="50.55" stroke="#262626" stroke-width="0.75"/>
<line x1="380.60" y1="48.05" x2="380.60" y2="50.55" stroke="#262626" stroke-width="0.75"/>
<line x1="392.81" y1="48.05" x2="392.81" y2="50.55" stroke="#262626" stroke-width="0.75"/>
<line x1="405.03" y1="48.05" x2="405.03" y2="50.55" stroke="#262626" stroke-width="0.75"/>
<line x1="417.24" y1="48.05" x2="417.24" y2="50.55" stroke="#262626" stroke-width="0.75"/>
<line x1="429.46" y1="48.05" x2="429.46" y2="50.55" stroke="#262626" stroke-width="0.75"/>
<line x1="441.68" y1="48.05" x2="441.68" y2="50.55" stroke="#262626" stroke-width="0.75"/>
<line x1="453.89" y1="48.05" x2="453.89" y2="50.55" stroke="#262626" stroke-width="0.75"/>
<line x1="466.11" y1="48.05" x2="466.11" y2="50.55" stroke="#262626" stroke-width="0.75"/>
<line x1="478.32" y1="48.05" x2="478.32" y2="50.55" stroke="#262626" stroke-width="0.75"/>
<line x1="490.54" y1="48.05" x2="490.54" y2="50.55" stroke="#262626" stroke-width="0.75"/>
<line x1="502.76" y1="48.05" x2="502.76" y2="50.55" stroke="#262626" stroke-width="0.75"/>
<line x1="514.97" y1="48.05" x2="514.97" y2="50.55" stroke="#262626" stroke-width="0.75"/>
<line x1="527.19" y1="48.05" x2="527.19" y2="50.55" stroke="#262626" stroke-width="0.75"/>
<line x1="539.40" y1="48.05" x2="539.40" y2="50.55" stroke="#262626" stroke-width="0.75"/>
<line x1="304.70" y1="22.85" x2="307.20" y2="22.85" stroke="#262626" stroke-width="0.75"/>
<text transform="translate(303.90,25.16) scale(0.1)" font-size="65.00" text-anchor="end" fill="#111" stroke="#111" stroke-width="2.80" style="text-rendering:geometricPrecision" font-family='"Liberation Sans", sans-serif' textLength="118.16" lengthAdjust="spacingAndGlyphs">−40</text>
<line x1="304.70" y1="35.45" x2="307.20" y2="35.45" stroke="#262626" stroke-width="0.75"/>
<text transform="translate(303.90,37.76) scale(0.1)" font-size="65.00" text-anchor="end" fill="#111" stroke="#111" stroke-width="2.80" style="text-rendering:geometricPrecision" font-family='"Liberation Sans", sans-serif' textLength="118.16" lengthAdjust="spacingAndGlyphs">−50</text>
<line x1="304.70" y1="48.05" x2="307.20" y2="48.05" stroke="#262626" stroke-width="0.75"/>
<text transform="translate(303.90,50.36) scale(0.1)" font-size="65.00" text-anchor="end" fill="#111" stroke="#111" stroke-width="2.80" style="text-rendering:geometricPrecision" font-family='"Liberation Sans", sans-serif' textLength="118.16" lengthAdjust="spacingAndGlyphs">−60</text>
<text transform="translate(288.65,35.45) rotate(-90) scale(0.1)" font-size="68.00" text-anchor="middle" fill="#111" stroke="#111" stroke-width="2.80" style="text-rendering:geometricPrecision" font-family='"Liberation Sans", sans-serif' textLength="266.24" lengthAdjust="spacingAndGlyphs">RSSI [dB]</text>
<text transform="translate(423.35,19.35) scale(0.1)" font-size="76.50" text-anchor="middle" fill="#111" stroke="#111" stroke-width="2.80" style="text-rendering:geometricPrecision" font-family='"Liberation Sans", sans-serif' textLength="1083.03" lengthAdjust="spacingAndGlyphs">E2000017230C01990890C123</text>
<polyline points="368.30,39.20 371.10,38.40 375.20,37.70 377.70,38.40 380.20,39.00 381.30,38.00 386.30,38.00 386.80,38.70 387.50,38.00 405.00,38.00" fill="none" stroke="#ffd700" stroke-width="1.35" stroke-linejoin="round" stroke-linecap="butt"/>
<line x1="319.52" y1="63.18" x2="319.52" y2="88.38" stroke="#ababab" stroke-width="0.75"/>
<line x1="331.73" y1="63.18" x2="331.73" y2="88.38" stroke="#ababab" stroke-width="0.75"/>
<line x1="343.95" y1="63.18" x2="343.95" y2="88.38" stroke="#ababab" stroke-width="0.75"/>
<line x1="356.16" y1="63.18" x2="356.16" y2="88.38" stroke="#ababab" stroke-width="0.75"/>
<line x1="368.38" y1="63.18" x2="368.38" y2="88.38" stroke="#ababab" stroke-width="0.75"/>
<line x1="380.60" y1="63.18" x2="380.60" y2="88.38" stroke="#ababab" stroke-width="0.75"/>
<line x1="392.81" y1="63.18" x2="392.81" y2="88.38" stroke="#ababab" stroke-width="0.75"/>
<line x1="405.03" y1="63.18" x2="405.03" y2="88.38" stroke="#ababab" stroke-width="0.75"/>
<line x1="417.24" y1="63.18" x2="417.24" y2="88.38" stroke="#ababab" stroke-width="0.75"/>
<line x1="429.46" y1="63.18" x2="429.46" y2="88.38" stroke="#ababab" stroke-width="0.75"/>
<line x1="441.68" y1="63.18" x2="441.68" y2="88.38" stroke="#ababab" stroke-width="0.75"/>
<line x1="453.89" y1="63.18" x2="453.89" y2="88.38" stroke="#ababab" stroke-width="0.75"/>
<line x1="466.11" y1="63.18" x2="466.11" y2="88.38" stroke="#ababab" stroke-width="0.75"/>
<line x1="478.32" y1="63.18" x2="478.32" y2="88.38" stroke="#ababab" stroke-width="0.75"/>
<line x1="490.54" y1="63.18" x2="490.54" y2="88.38" stroke="#ababab" stroke-width="0.75"/>
<line x1="502.76" y1="63.18" x2="502.76" y2="88.38" stroke="#ababab" stroke-width="0.75"/>
<line x1="514.97" y1="63.18" x2="514.97" y2="88.38" stroke="#ababab" stroke-width="0.75"/>
<line x1="527.19" y1="63.18" x2="527.19" y2="88.38" stroke="#ababab" stroke-width="0.75"/>
<line x1="307.20" y1="75.78" x2="539.50" y2="75.78" stroke="#ababab" stroke-width="0.75"/>
<rect x="307.20" y="63.18" width="232.30" height="25.20" fill="none" stroke="#262626" stroke-width="0.85"/>
<line x1="307.30" y1="88.38" x2="307.30" y2="90.88" stroke="#262626" stroke-width="0.75"/>
<line x1="319.52" y1="88.38" x2="319.52" y2="90.88" stroke="#262626" stroke-width="0.75"/>
<line x1="331.73" y1="88.38" x2="331.73" y2="90.88" stroke="#262626" stroke-width="0.75"/>
<line x1="343.95" y1="88.38" x2="343.95" y2="90.88" stroke="#262626" stroke-width="0.75"/>
<line x1="356.16" y1="88.38" x2="356.16" y2="90.88" stroke="#262626" stroke-width="0.75"/>
<line x1="368.38" y1="88.38" x2="368.38" y2="90.88" stroke="#262626" stroke-width="0.75"/>
<line x1="380.60" y1="88.38" x2="380.60" y2="90.88" stroke="#262626" stroke-width="0.75"/>
<line x1="392.81" y1="88.38" x2="392.81" y2="90.88" stroke="#262626" stroke-width="0.75"/>
<line x1="405.03" y1="88.38" x2="405.03" y2="90.88" stroke="#262626" stroke-width="0.75"/>
<line x1="417.24" y1="88.38" x2="417.24" y2="90.88" stroke="#262626" stroke-width="0.75"/>
<line x1="429.46" y1="88.38" x2="429.46" y2="90.88" stroke="#262626" stroke-width="0.75"/>
<line x1="441.68" y1="88.38" x2="441.68" y2="90.88" stroke="#262626" stroke-width="0.75"/>
<line x1="453.89" y1="88.38" x2="453.89" y2="90.88" stroke="#262626" stroke-width="0.75"/>
<line x1="466.11" y1="88.38" x2="466.11" y2="90.88" stroke="#262626" stroke-width="0.75"/>
<line x1="478.32" y1="88.38" x2="478.32" y2="90.88" stroke="#262626" stroke-width="0.75"/>
<line x1="490.54" y1="88.38" x2="490.54" y2="90.88" stroke="#262626" stroke-width="0.75"/>
<line x1="502.76" y1="88.38" x2="502.76" y2="90.88" stroke="#262626" stroke-width="0.75"/>
<line x1="514.97" y1="88.38" x2="514.97" y2="90.88" stroke="#262626" stroke-width="0.75"/>
<line x1="527.19" y1="88.38" x2="527.19" y2="90.88" stroke="#262626" stroke-width="0.75"/>
<line x1="539.40" y1="88.38" x2="539.40" y2="90.88" stroke="#262626" stroke-width="0.75"/>
<line x1="304.70" y1="63.18" x2="307.20" y2="63.18" stroke="#262626" stroke-width="0.75"/>
<text transform="translate(303.90,65.49) scale(0.1)" font-size="65.00" text-anchor="end" fill="#111" stroke="#111" stroke-width="2.80" style="text-rendering:geometricPrecision" font-family='"Liberation Sans", sans-serif' textLength="118.16" lengthAdjust="spacingAndGlyphs">−40</text>
<line x1="304.70" y1="75.78" x2="307.20" y2="75.78" stroke="#262626" stroke-width="0.75"/>
<text transform="translate(303.90,78.09) scale(0.1)" font-size="65.00" text-anchor="end" fill="#111" stroke="#111" stroke-width="2.80" style="text-rendering:geometricPrecision" font-family='"Liberation Sans", sans-serif' textLength="118.16" lengthAdjust="spacingAndGlyphs">−50</text>
<line x1="304.70" y1="88.38" x2="307.20" y2="88.38" stroke="#262626" stroke-width="0.75"/>
<text transform="translate(303.90,90.69) scale(0.1)" font-size="65.00" text-anchor="end" fill="#111" stroke="#111" stroke-width="2.80" style="text-rendering:geometricPrecision" font-family='"Liberation Sans", sans-serif' textLength="118.16" lengthAdjust="spacingAndGlyphs">−60</text>
<text transform="translate(288.65,75.78) rotate(-90) scale(0.1)" font-size="68.00" text-anchor="middle" fill="#111" stroke="#111" stroke-width="2.80" style="text-rendering:geometricPrecision" font-family='"Liberation Sans", sans-serif' textLength="266.24" lengthAdjust="spacingAndGlyphs">RSSI [dB]</text>
<text transform="translate(423.35,59.68) scale(0.1)" font-size="76.50" text-anchor="middle" fill="#111" stroke="#111" stroke-width="2.80" style="text-rendering:geometricPrecision" font-family='"Liberation Sans", sans-serif' textLength="1082.19" lengthAdjust="spacingAndGlyphs">E2000017230C02170980B737</text>
<polyline points="374.50,76.60 374.50,78.70" fill="none" stroke="#e0a828" stroke-width="1.35" stroke-linejoin="round" stroke-linecap="butt"/>
<line x1="319.52" y1="103.51" x2="319.52" y2="128.71" stroke="#ababab" stroke-width="0.75"/>
<line x1="331.73" y1="103.51" x2="331.73" y2="128.71" stroke="#ababab" stroke-width="0.75"/>
<line x1="343.95" y1="103.51" x2="343.95" y2="128.71" stroke="#ababab" stroke-width="0.75"/>
<line x1="356.16" y1="103.51" x2="356.16" y2="128.71" stroke="#ababab" stroke-width="0.75"/>
<line x1="368.38" y1="103.51" x2="368.38" y2="128.71" stroke="#ababab" stroke-width="0.75"/>
<line x1="380.60" y1="103.51" x2="380.60" y2="128.71" stroke="#ababab" stroke-width="0.75"/>
<line x1="392.81" y1="103.51" x2="392.81" y2="128.71" stroke="#ababab" stroke-width="0.75"/>
<line x1="405.03" y1="103.51" x2="405.03" y2="128.71" stroke="#ababab" stroke-width="0.75"/>
<line x1="417.24" y1="103.51" x2="417.24" y2="128.71" stroke="#ababab" stroke-width="0.75"/>
<line x1="429.46" y1="103.51" x2="429.46" y2="128.71" stroke="#ababab" stroke-width="0.75"/>
<line x1="441.68" y1="103.51" x2="441.68" y2="128.71" stroke="#ababab" stroke-width="0.75"/>
<line x1="453.89" y1="103.51" x2="453.89" y2="128.71" stroke="#ababab" stroke-width="0.75"/>
<line x1="466.11" y1="103.51" x2="466.11" y2="128.71" stroke="#ababab" stroke-width="0.75"/>
<line x1="478.32" y1="103.51" x2="478.32" y2="128.71" stroke="#ababab" stroke-width="0.75"/>
<line x1="490.54" y1="103.51" x2="490.54" y2="128.71" stroke="#ababab" stroke-width="0.75"/>
<line x1="502.76" y1="103.51" x2="502.76" y2="128.71" stroke="#ababab" stroke-width="0.75"/>
<line x1="514.97" y1="103.51" x2="514.97" y2="128.71" stroke="#ababab" stroke-width="0.75"/>
<line x1="527.19" y1="103.51" x2="527.19" y2="128.71" stroke="#ababab" stroke-width="0.75"/>
<line x1="307.20" y1="116.11" x2="539.50" y2="116.11" stroke="#ababab" stroke-width="0.75"/>
<rect x="307.20" y="103.51" width="232.30" height="25.20" fill="none" stroke="#262626" stroke-width="0.85"/>
<line x1="307.30" y1="128.71" x2="307.30" y2="131.21" stroke="#262626" stroke-width="0.75"/>
<line x1="319.52" y1="128.71" x2="319.52" y2="131.21" stroke="#262626" stroke-width="0.75"/>
<line x1="331.73" y1="128.71" x2="331.73" y2="131.21" stroke="#262626" stroke-width="0.75"/>
<line x1="343.95" y1="128.71" x2="343.95" y2="131.21" stroke="#262626" stroke-width="0.75"/>
<line x1="356.16" y1="128.71" x2="356.16" y2="131.21" stroke="#262626" stroke-width="0.75"/>
<line x1="368.38" y1="128.71" x2="368.38" y2="131.21" stroke="#262626" stroke-width="0.75"/>
<line x1="380.60" y1="128.71" x2="380.60" y2="131.21" stroke="#262626" stroke-width="0.75"/>
<line x1="392.81" y1="128.71" x2="392.81" y2="131.21" stroke="#262626" stroke-width="0.75"/>
<line x1="405.03" y1="128.71" x2="405.03" y2="131.21" stroke="#262626" stroke-width="0.75"/>
<line x1="417.24" y1="128.71" x2="417.24" y2="131.21" stroke="#262626" stroke-width="0.75"/>
<line x1="429.46" y1="128.71" x2="429.46" y2="131.21" stroke="#262626" stroke-width="0.75"/>
<line x1="441.68" y1="128.71" x2="441.68" y2="131.21" stroke="#262626" stroke-width="0.75"/>
<line x1="453.89" y1="128.71" x2="453.89" y2="131.21" stroke="#262626" stroke-width="0.75"/>
<line x1="466.11" y1="128.71" x2="466.11" y2="131.21" stroke="#262626" stroke-width="0.75"/>
<line x1="478.32" y1="128.71" x2="478.32" y2="131.21" stroke="#262626" stroke-width="0.75"/>
<line x1="490.54" y1="128.71" x2="490.54" y2="131.21" stroke="#262626" stroke-width="0.75"/>
<line x1="502.76" y1="128.71" x2="502.76" y2="131.21" stroke="#262626" stroke-width="0.75"/>
<line x1="514.97" y1="128.71" x2="514.97" y2="131.21" stroke="#262626" stroke-width="0.75"/>
<line x1="527.19" y1="128.71" x2="527.19" y2="131.21" stroke="#262626" stroke-width="0.75"/>
<line x1="539.40" y1="128.71" x2="539.40" y2="131.21" stroke="#262626" stroke-width="0.75"/>
<line x1="304.70" y1="103.51" x2="307.20" y2="103.51" stroke="#262626" stroke-width="0.75"/>
<text transform="translate(303.90,105.82) scale(0.1)" font-size="65.00" text-anchor="end" fill="#111" stroke="#111" stroke-width="2.80" style="text-rendering:geometricPrecision" font-family='"Liberation Sans", sans-serif' textLength="118.16" lengthAdjust="spacingAndGlyphs">−40</text>
<line x1="304.70" y1="116.11" x2="307.20" y2="116.11" stroke="#262626" stroke-width="0.75"/>
<text transform="translate(303.90,118.42) scale(0.1)" font-size="65.00" text-anchor="end" fill="#111" stroke="#111" stroke-width="2.80" style="text-rendering:geometricPrecision" font-family='"Liberation Sans", sans-serif' textLength="118.16" lengthAdjust="spacingAndGlyphs">−50</text>
<line x1="304.70" y1="128.71" x2="307.20" y2="128.71" stroke="#262626" stroke-width="0.75"/>
<text transform="translate(303.90,131.02) scale(0.1)" font-size="65.00" text-anchor="end" fill="#111" stroke="#111" stroke-width="2.80" style="text-rendering:geometricPrecision" font-family='"Liberation Sans", sans-serif' textLength="118.16" lengthAdjust="spacingAndGlyphs">−60</text>
<text transform="translate(288.65,116.11) rotate(-90) scale(0.1)" font-size="68.00" text-anchor="middle" fill="#111" stroke="#111" stroke-width="2.80" style="text-rendering:geometricPrecision" font-family='"Liberation Sans", sans-serif' textLength="266.24" lengthAdjust="spacingAndGlyphs">RSSI [dB]</text>
<text transform="translate(423.35,100.01) scale(0.1)" font-size="76.50" text-anchor="middle" fill="#111" stroke="#111" stroke-width="2.80" style="text-rendering:geometricPrecision" font-family='"Liberation Sans", sans-serif' textLength="1082.19" lengthAdjust="spacingAndGlyphs">E2000017230C02410980B767</text>
<polyline points="350.20,123.80 350.20,120.60 353.10,118.40 355.80,116.50 356.60,117.40 374.00,117.40 375.10,118.20 386.40,118.20 386.60,111.20 390.00,110.60 392.20,109.60 393.20,111.10 404.00,111.10 409.90,110.00 412.00,108.50 416.30,107.10 417.40,107.50 418.00,109.30 440.00,109.30 458.70,109.30 460.80,108.20 464.60,108.20 466.70,109.30 472.10,107.10 472.60,108.80 477.50,109.30 481.20,110.70 484.70,112.80" fill="none" stroke="#9acd32" stroke-width="1.35" stroke-linejoin="round" stroke-linecap="butt"/>
<polyline points="496.50,119.30 496.50,122.80" fill="none" stroke="#9acd32" stroke-width="1.35" stroke-linejoin="round" stroke-linecap="butt"/>
<polyline points="508.60,118.30 508.60,122.80" fill="none" stroke="#9acd32" stroke-width="1.35" stroke-linejoin="round" stroke-linecap="butt"/>
<line x1="319.52" y1="143.84" x2="319.52" y2="169.04" stroke="#ababab" stroke-width="0.75"/>
<line x1="331.73" y1="143.84" x2="331.73" y2="169.04" stroke="#ababab" stroke-width="0.75"/>
<line x1="343.95" y1="143.84" x2="343.95" y2="169.04" stroke="#ababab" stroke-width="0.75"/>
<line x1="356.16" y1="143.84" x2="356.16" y2="169.04" stroke="#ababab" stroke-width="0.75"/>
<line x1="368.38" y1="143.84" x2="368.38" y2="169.04" stroke="#ababab" stroke-width="0.75"/>
<line x1="380.60" y1="143.84" x2="380.60" y2="169.04" stroke="#ababab" stroke-width="0.75"/>
<line x1="392.81" y1="143.84" x2="392.81" y2="169.04" stroke="#ababab" stroke-width="0.75"/>
<line x1="405.03" y1="143.84" x2="405.03" y2="169.04" stroke="#ababab" stroke-width="0.75"/>
<line x1="417.24" y1="143.84" x2="417.24" y2="169.04" stroke="#ababab" stroke-width="0.75"/>
<line x1="429.46" y1="143.84" x2="429.46" y2="169.04" stroke="#ababab" stroke-width="0.75"/>
<line x1="441.68" y1="143.84" x2="441.68" y2="169.04" stroke="#ababab" stroke-width="0.75"/>
<line x1="453.89" y1="143.84" x2="453.89" y2="169.04" stroke="#ababab" stroke-width="0.75"/>
<line x1="466.11" y1="143.84" x2="466.11" y2="169.04" stroke="#ababab" stroke-width="0.75"/>
<line x1="478.32" y1="143.84" x2="478.32" y2="169.04" stroke="#ababab" stroke-width="0.75"/>
<line x1="490.54" y1="143.84" x2="490.54" y2="169.04" stroke="#ababab" stroke-width="0.75"/>
<line x1="502.76" y1="143.84" x2="502.76" y2="169.04" stroke="#ababab" stroke-width="0.75"/>
<line x1="514.97" y1="143.84" x2="514.97" y2="169.04" stroke="#ababab" stroke-width="0.75"/>
<line x1="527.19" y1="143.84" x2="527.19" y2="169.04" stroke="#ababab" stroke-width="0.75"/>
<line x1="307.20" y1="156.44" x2="539.50" y2="156.44" stroke="#ababab" stroke-width="0.75"/>
<rect x="307.20" y="143.84" width="232.30" height="25.20" fill="none" stroke="#262626" stroke-width="0.85"/>
<line x1="307.30" y1="169.04" x2="307.30" y2="171.54" stroke="#262626" stroke-width="0.75"/>
<line x1="319.52" y1="169.04" x2="319.52" y2="171.54" stroke="#262626" stroke-width="0.75"/>
<line x1="331.73" y1="169.04" x2="331.73" y2="171.54" stroke="#262626" stroke-width="0.75"/>
<line x1="343.95" y1="169.04" x2="343.95" y2="171.54" stroke="#262626" stroke-width="0.75"/>
<line x1="356.16" y1="169.04" x2="356.16" y2="171.54" stroke="#262626" stroke-width="0.75"/>
<line x1="368.38" y1="169.04" x2="368.38" y2="171.54" stroke="#262626" stroke-width="0.75"/>
<line x1="380.60" y1="169.04" x2="380.60" y2="171.54" stroke="#262626" stroke-width="0.75"/>
<line x1="392.81" y1="169.04" x2="392.81" y2="171.54" stroke="#262626" stroke-width="0.75"/>
<line x1="405.03" y1="169.04" x2="405.03" y2="171.54" stroke="#262626" stroke-width="0.75"/>
<line x1="417.24" y1="169.04" x2="417.24" y2="171.54" stroke="#262626" stroke-width="0.75"/>
<line x1="429.46" y1="169.04" x2="429.46" y2="171.54" stroke="#262626" stroke-width="0.75"/>
<line x1="441.68" y1="169.04" x2="441.68" y2="171.54" stroke="#262626" stroke-width="0.75"/>
<line x1="453.89" y1="169.04" x2="453.89" y2="171.54" stroke="#262626" stroke-width="0.75"/>
<line x1="466.11" y1="169.04" x2="466.11" y2="171.54" stroke="#262626" stroke-width="0.75"/>
<line x1="478.32" y1="169.04" x2="478.32" y2="171.54" stroke="#262626" stroke-width="0.75"/>
<line x1="490.54" y1="169.04" x2="490.54" y2="171.54" stroke="#262626" stroke-width="0.75"/>
<line x1="502.76" y1="169.04" x2="502.76" y2="171.54" stroke="#262626" stroke-width="0.75"/>
<line x1="514.97" y1="169.04" x2="514.97" y2="171.54" stroke="#262626" stroke-width="0.75"/>
<line x1="527.19" y1="169.04" x2="527.19" y2="171.54" stroke="#262626" stroke-width="0.75"/>
<line x1="539.40" y1="169.04" x2="539.40" y2="171.54" stroke="#262626" stroke-width="0.75"/>
<line x1="304.70" y1="143.84" x2="307.20" y2="143.84" stroke="#262626" stroke-width="0.75"/>
<text transform="translate(303.90,146.15) scale(0.1)" font-size="65.00" text-anchor="end" fill="#111" stroke="#111" stroke-width="2.80" style="text-rendering:geometricPrecision" font-family='"Liberation Sans", sans-serif' textLength="118.16" lengthAdjust="spacingAndGlyphs">−40</text>
<line x1="304.70" y1="156.44" x2="307.20" y2="156.44" stroke="#262626" stroke-width="0.75"/>
<text transform="translate(303.90,158.75) scale(0.1)" font-size="65.00" text-anchor="end" fill="#111" stroke="#111" stroke-width="2.80" style="text-rendering:geometricPrecision" font-family='"Liberation Sans", sans-serif' textLength="118.16" lengthAdjust="spacingAndGlyphs">−50</text>
<line x1="304.70" y1="169.04" x2="307.20" y2="169.04" stroke="#262626" stroke-width="0.75"/>
<text transform="translate(303.90,171.35) scale(0.1)" font-size="65.00" text-anchor="end" fill="#111" stroke="#111" stroke-width="2.80" style="text-rendering:geometricPrecision" font-family='"Liberation Sans", sans-serif' textLength="118.16" lengthAdjust="spacingAndGlyphs">−60</text>
<text transform="translate(288.65,156.44) rotate(-90) scale(0.1)" font-size="68.00" text-anchor="middle" fill="#111" stroke="#111" stroke-width="2.80" style="text-rendering:geometricPrecision" font-family='"Liberation Sans", sans-serif' textLength="266.24" lengthAdjust="spacingAndGlyphs">RSSI [dB]</text>
<text transform="translate(423.35,140.34) scale(0.1)" font-size="76.50" text-anchor="middle" fill="#111" stroke="#111" stroke-width="2.80" style="text-rendering:geometricPrecision" font-family='"Liberation Sans", sans-serif' textLength="1082.19" lengthAdjust="spacingAndGlyphs">E2000017230C02520980B780</text>
<polyline points="350.00,160.00 353.10,157.80 355.80,155.80 356.90,156.70 361.80,156.70 362.90,155.30 368.40,155.30 372.70,157.20 374.90,159.30 385.80,159.30 386.90,155.60 392.30,153.10 400.00,152.80 405.90,152.80 410.30,151.70 412.50,150.40 422.80,150.40 423.90,152.00 428.80,150.60 429.90,152.00 434.80,152.00 436.40,150.40 441.90,150.40 445.20,151.30 448.40,152.00 451.70,150.90 454.90,151.20 458.20,151.80 460.60,150.70 471.30,150.70 472.90,151.80 477.80,151.80 481.10,154.80 484.40,156.70" fill="none" stroke="#14901a" stroke-width="1.35" stroke-linejoin="round" stroke-linecap="butt"/>
<polyline points="496.60,158.00 496.60,161.00" fill="none" stroke="#14901a" stroke-width="1.35" stroke-linejoin="round" stroke-linecap="butt"/>
<polyline points="508.60,157.70 508.60,160.00" fill="none" stroke="#14901a" stroke-width="1.35" stroke-linejoin="round" stroke-linecap="butt"/>
<line x1="319.52" y1="184.17" x2="319.52" y2="209.37" stroke="#ababab" stroke-width="0.75"/>
<line x1="331.73" y1="184.17" x2="331.73" y2="209.37" stroke="#ababab" stroke-width="0.75"/>
<line x1="343.95" y1="184.17" x2="343.95" y2="209.37" stroke="#ababab" stroke-width="0.75"/>
<line x1="356.16" y1="184.17" x2="356.16" y2="209.37" stroke="#ababab" stroke-width="0.75"/>
<line x1="368.38" y1="184.17" x2="368.38" y2="209.37" stroke="#ababab" stroke-width="0.75"/>
<line x1="380.60" y1="184.17" x2="380.60" y2="209.37" stroke="#ababab" stroke-width="0.75"/>
<line x1="392.81" y1="184.17" x2="392.81" y2="209.37" stroke="#ababab" stroke-width="0.75"/>
<line x1="405.03" y1="184.17" x2="405.03" y2="209.37" stroke="#ababab" stroke-width="0.75"/>
<line x1="417.24" y1="184.17" x2="417.24" y2="209.37" stroke="#ababab" stroke-width="0.75"/>
<line x1="429.46" y1="184.17" x2="429.46" y2="209.37" stroke="#ababab" stroke-width="0.75"/>
<line x1="441.68" y1="184.17" x2="441.68" y2="209.37" stroke="#ababab" stroke-width="0.75"/>
<line x1="453.89" y1="184.17" x2="453.89" y2="209.37" stroke="#ababab" stroke-width="0.75"/>
<line x1="466.11" y1="184.17" x2="466.11" y2="209.37" stroke="#ababab" stroke-width="0.75"/>
<line x1="478.32" y1="184.17" x2="478.32" y2="209.37" stroke="#ababab" stroke-width="0.75"/>
<line x1="490.54" y1="184.17" x2="490.54" y2="209.37" stroke="#ababab" stroke-width="0.75"/>
<line x1="502.76" y1="184.17" x2="502.76" y2="209.37" stroke="#ababab" stroke-width="0.75"/>
<line x1="514.97" y1="184.17" x2="514.97" y2="209.37" stroke="#ababab" stroke-width="0.75"/>
<line x1="527.19" y1="184.17" x2="527.19" y2="209.37" stroke="#ababab" stroke-width="0.75"/>
<line x1="307.20" y1="196.77" x2="539.50" y2="196.77" stroke="#ababab" stroke-width="0.75"/>
<rect x="307.20" y="184.17" width="232.30" height="25.20" fill="none" stroke="#262626" stroke-width="0.85"/>
<line x1="307.30" y1="209.37" x2="307.30" y2="211.87" stroke="#262626" stroke-width="0.75"/>
<line x1="319.52" y1="209.37" x2="319.52" y2="211.87" stroke="#262626" stroke-width="0.75"/>
<line x1="331.73" y1="209.37" x2="331.73" y2="211.87" stroke="#262626" stroke-width="0.75"/>
<line x1="343.95" y1="209.37" x2="343.95" y2="211.87" stroke="#262626" stroke-width="0.75"/>
<line x1="356.16" y1="209.37" x2="356.16" y2="211.87" stroke="#262626" stroke-width="0.75"/>
<line x1="368.38" y1="209.37" x2="368.38" y2="211.87" stroke="#262626" stroke-width="0.75"/>
<line x1="380.60" y1="209.37" x2="380.60" y2="211.87" stroke="#262626" stroke-width="0.75"/>
<line x1="392.81" y1="209.37" x2="392.81" y2="211.87" stroke="#262626" stroke-width="0.75"/>
<line x1="405.03" y1="209.37" x2="405.03" y2="211.87" stroke="#262626" stroke-width="0.75"/>
<line x1="417.24" y1="209.37" x2="417.24" y2="211.87" stroke="#262626" stroke-width="0.75"/>
<line x1="429.46" y1="209.37" x2="429.46" y2="211.87" stroke="#262626" stroke-width="0.75"/>
<line x1="441.68" y1="209.37" x2="441.68" y2="211.87" stroke="#262626" stroke-width="0.75"/>
<line x1="453.89" y1="209.37" x2="453.89" y2="211.87" stroke="#262626" stroke-width="0.75"/>
<line x1="466.11" y1="209.37" x2="466.11" y2="211.87" stroke="#262626" stroke-width="0.75"/>
<line x1="478.32" y1="209.37" x2="478.32" y2="211.87" stroke="#262626" stroke-width="0.75"/>
<line x1="490.54" y1="209.37" x2="490.54" y2="211.87" stroke="#262626" stroke-width="0.75"/>
<line x1="502.76" y1="209.37" x2="502.76" y2="211.87" stroke="#262626" stroke-width="0.75"/>
<line x1="514.97" y1="209.37" x2="514.97" y2="211.87" stroke="#262626" stroke-width="0.75"/>
<line x1="527.19" y1="209.37" x2="527.19" y2="211.87" stroke="#262626" stroke-width="0.75"/>
<line x1="539.40" y1="209.37" x2="539.40" y2="211.87" stroke="#262626" stroke-width="0.75"/>
<line x1="304.70" y1="184.17" x2="307.20" y2="184.17" stroke="#262626" stroke-width="0.75"/>
<text transform="translate(303.90,186.48) scale(0.1)" font-size="65.00" text-anchor="end" fill="#111" stroke="#111" stroke-width="2.80" style="text-rendering:geometricPrecision" font-family='"Liberation Sans", sans-serif' textLength="118.16" lengthAdjust="spacingAndGlyphs">−40</text>
<line x1="304.70" y1="196.77" x2="307.20" y2="196.77" stroke="#262626" stroke-width="0.75"/>
<text transform="translate(303.90,199.08) scale(0.1)" font-size="65.00" text-anchor="end" fill="#111" stroke="#111" stroke-width="2.80" style="text-rendering:geometricPrecision" font-family='"Liberation Sans", sans-serif' textLength="118.16" lengthAdjust="spacingAndGlyphs">−50</text>
<line x1="304.70" y1="209.37" x2="307.20" y2="209.37" stroke="#262626" stroke-width="0.75"/>
<text transform="translate(303.90,211.68) scale(0.1)" font-size="65.00" text-anchor="end" fill="#111" stroke="#111" stroke-width="2.80" style="text-rendering:geometricPrecision" font-family='"Liberation Sans", sans-serif' textLength="118.16" lengthAdjust="spacingAndGlyphs">−60</text>
<text transform="translate(288.65,196.77) rotate(-90) scale(0.1)" font-size="68.00" text-anchor="middle" fill="#111" stroke="#111" stroke-width="2.80" style="text-rendering:geometricPrecision" font-family='"Liberation Sans", sans-serif' textLength="266.24" lengthAdjust="spacingAndGlyphs">RSSI [dB]</text>
<text transform="translate(423.35,180.67) scale(0.1)" font-size="76.50" text-anchor="middle" fill="#111" stroke="#111" stroke-width="2.80" style="text-rendering:geometricPrecision" font-family='"Liberation Sans", sans-serif' textLength="1091.62" lengthAdjust="spacingAndGlyphs">E2000017230C01640980B6D0</text>
<polyline points="466.20,199.50 466.20,195.20 472.00,195.20 477.50,192.00 479.00,192.80 484.00,195.20 490.00,195.20 496.00,192.00 498.00,193.20 502.00,195.20 508.50,195.50 508.50,198.20" fill="none" stroke="#ffa500" stroke-width="1.35" stroke-linejoin="round" stroke-linecap="butt"/>
<line x1="319.52" y1="224.50" x2="319.52" y2="249.70" stroke="#ababab" stroke-width="0.75"/>
<line x1="331.73" y1="224.50" x2="331.73" y2="249.70" stroke="#ababab" stroke-width="0.75"/>
<line x1="343.95" y1="224.50" x2="343.95" y2="249.70" stroke="#ababab" stroke-width="0.75"/>
<line x1="356.16" y1="224.50" x2="356.16" y2="249.70" stroke="#ababab" stroke-width="0.75"/>
<line x1="368.38" y1="224.50" x2="368.38" y2="249.70" stroke="#ababab" stroke-width="0.75"/>
<line x1="380.60" y1="224.50" x2="380.60" y2="249.70" stroke="#ababab" stroke-width="0.75"/>
<line x1="392.81" y1="224.50" x2="392.81" y2="249.70" stroke="#ababab" stroke-width="0.75"/>
<line x1="405.03" y1="224.50" x2="405.03" y2="249.70" stroke="#ababab" stroke-width="0.75"/>
<line x1="417.24" y1="224.50" x2="417.24" y2="249.70" stroke="#ababab" stroke-width="0.75"/>
<line x1="429.46" y1="224.50" x2="429.46" y2="249.70" stroke="#ababab" stroke-width="0.75"/>
<line x1="441.68" y1="224.50" x2="441.68" y2="249.70" stroke="#ababab" stroke-width="0.75"/>
<line x1="453.89" y1="224.50" x2="453.89" y2="249.70" stroke="#ababab" stroke-width="0.75"/>
<line x1="466.11" y1="224.50" x2="466.11" y2="249.70" stroke="#ababab" stroke-width="0.75"/>
<line x1="478.32" y1="224.50" x2="478.32" y2="249.70" stroke="#ababab" stroke-width="0.75"/>
<line x1="490.54" y1="224.50" x2="490.54" y2="249.70" stroke="#ababab" stroke-width="0.75"/>
<line x1="502.76" y1="224.50" x2="502.76" y2="249.70" stroke="#ababab" stroke-width="0.75"/>
<line x1="514.97" y1="224.50" x2="514.97" y2="249.70" stroke="#ababab" stroke-width="0.75"/>
<line x1="527.19" y1="224.50" x2="527.19" y2="249.70" stroke="#ababab" stroke-width="0.75"/>
<line x1="307.20" y1="237.10" x2="539.50" y2="237.10" stroke="#ababab" stroke-width="0.75"/>
<rect x="307.20" y="224.50" width="232.30" height="25.20" fill="none" stroke="#262626" stroke-width="0.85"/>
<line x1="307.30" y1="249.70" x2="307.30" y2="252.20" stroke="#262626" stroke-width="0.75"/>
<line x1="319.52" y1="249.70" x2="319.52" y2="252.20" stroke="#262626" stroke-width="0.75"/>
<line x1="331.73" y1="249.70" x2="331.73" y2="252.20" stroke="#262626" stroke-width="0.75"/>
<line x1="343.95" y1="249.70" x2="343.95" y2="252.20" stroke="#262626" stroke-width="0.75"/>
<line x1="356.16" y1="249.70" x2="356.16" y2="252.20" stroke="#262626" stroke-width="0.75"/>
<line x1="368.38" y1="249.70" x2="368.38" y2="252.20" stroke="#262626" stroke-width="0.75"/>
<line x1="380.60" y1="249.70" x2="380.60" y2="252.20" stroke="#262626" stroke-width="0.75"/>
<line x1="392.81" y1="249.70" x2="392.81" y2="252.20" stroke="#262626" stroke-width="0.75"/>
<line x1="405.03" y1="249.70" x2="405.03" y2="252.20" stroke="#262626" stroke-width="0.75"/>
<line x1="417.24" y1="249.70" x2="417.24" y2="252.20" stroke="#262626" stroke-width="0.75"/>
<line x1="429.46" y1="249.70" x2="429.46" y2="252.20" stroke="#262626" stroke-width="0.75"/>
<line x1="441.68" y1="249.70" x2="441.68" y2="252.20" stroke="#262626" stroke-width="0.75"/>
<line x1="453.89" y1="249.70" x2="453.89" y2="252.20" stroke="#262626" stroke-width="0.75"/>
<line x1="466.11" y1="249.70" x2="466.11" y2="252.20" stroke="#262626" stroke-width="0.75"/>
<line x1="478.32" y1="249.70" x2="478.32" y2="252.20" stroke="#262626" stroke-width="0.75"/>
<line x1="490.54" y1="249.70" x2="490.54" y2="252.20" stroke="#262626" stroke-width="0.75"/>
<line x1="502.76" y1="249.70" x2="502.76" y2="252.20" stroke="#262626" stroke-width="0.75"/>
<line x1="514.97" y1="249.70" x2="514.97" y2="252.20" stroke="#262626" stroke-width="0.75"/>
<line x1="527.19" y1="249.70" x2="527.19" y2="252.20" stroke="#262626" stroke-width="0.75"/>
<line x1="539.40" y1="249.70" x2="539.40" y2="252.20" stroke="#262626" stroke-width="0.75"/>
<line x1="304.70" y1="224.50" x2="307.20" y2="224.50" stroke="#262626" stroke-width="0.75"/>
<text transform="translate(303.90,226.81) scale(0.1)" font-size="65.00" text-anchor="end" fill="#111" stroke="#111" stroke-width="2.80" style="text-rendering:geometricPrecision" font-family='"Liberation Sans", sans-serif' textLength="118.16" lengthAdjust="spacingAndGlyphs">−40</text>
<line x1="304.70" y1="237.10" x2="307.20" y2="237.10" stroke="#262626" stroke-width="0.75"/>
<text transform="translate(303.90,239.41) scale(0.1)" font-size="65.00" text-anchor="end" fill="#111" stroke="#111" stroke-width="2.80" style="text-rendering:geometricPrecision" font-family='"Liberation Sans", sans-serif' textLength="118.16" lengthAdjust="spacingAndGlyphs">−50</text>
<line x1="304.70" y1="249.70" x2="307.20" y2="249.70" stroke="#262626" stroke-width="0.75"/>
<text transform="translate(303.90,252.01) scale(0.1)" font-size="65.00" text-anchor="end" fill="#111" stroke="#111" stroke-width="2.80" style="text-rendering:geometricPrecision" font-family='"Liberation Sans", sans-serif' textLength="118.16" lengthAdjust="spacingAndGlyphs">−60</text>
<text transform="translate(288.65,237.10) rotate(-90) scale(0.1)" font-size="68.00" text-anchor="middle" fill="#111" stroke="#111" stroke-width="2.80" style="text-rendering:geometricPrecision" font-family='"Liberation Sans", sans-serif' textLength="266.24" lengthAdjust="spacingAndGlyphs">RSSI [dB]</text>
<text transform="translate(423.35,221.00) scale(0.1)" font-size="76.50" text-anchor="middle" fill="#111" stroke="#111" stroke-width="2.80" style="text-rendering:geometricPrecision" font-family='"Liberation Sans", sans-serif' textLength="1087.40" lengthAdjust="spacingAndGlyphs">E2000017230C02400890C16C</text>
<polyline points="471.80,238.40 471.80,235.60 473.20,235.60 484.10,235.60 484.30,233.10 484.50,235.60 489.50,235.60 492.30,234.50 496.40,232.20 496.40,235.60 501.80,235.60 503.20,236.50 505.00,236.30 508.60,235.60 508.60,238.40" fill="none" stroke="#ff4a12" stroke-width="1.35" stroke-linejoin="round" stroke-linecap="butt"/>
<text transform="translate(42.76,254.10) rotate(-90) scale(0.1)" font-size="60.00" text-anchor="end" fill="#111" stroke="#111" stroke-width="2.80" style="text-rendering:geometricPrecision" font-family='"Liberation Sans", sans-serif' textLength="261.00" lengthAdjust="spacingAndGlyphs">14:39:50</text>
<text transform="translate(54.23,254.10) rotate(-90) scale(0.1)" font-size="60.00" text-anchor="end" fill="#111" stroke="#111" stroke-width="2.80" style="text-rendering:geometricPrecision" font-family='"Liberation Sans", sans-serif' textLength="261.00" lengthAdjust="spacingAndGlyphs">14:40:00</text>
<text transform="translate(65.71,254.10) rotate(-90) scale(0.1)" font-size="60.00" text-anchor="end" fill="#111" stroke="#111" stroke-width="2.80" style="text-rendering:geometricPrecision" font-family='"Liberation Sans", sans-serif' textLength="261.00" lengthAdjust="spacingAndGlyphs">14:40:10</text>
<text transform="translate(77.18,254.10) rotate(-90) scale(0.1)" font-size="60.00" text-anchor="end" fill="#111" stroke="#111" stroke-width="2.80" style="text-rendering:geometricPrecision" font-family='"Liberation Sans", sans-serif' textLength="261.00" lengthAdjust="spacingAndGlyphs">14:40:20</text>
<text transform="translate(88.66,254.10) rotate(-90) scale(0.1)" font-size="60.00" text-anchor="end" fill="#111" stroke="#111" stroke-width="2.80" style="text-rendering:geometricPrecision" font-family='"Liberation Sans", sans-serif' textLength="261.00" lengthAdjust="spacingAndGlyphs">14:40:30</text>
<text transform="translate(100.13,254.10) rotate(-90) scale(0.1)" font-size="60.00" text-anchor="end" fill="#111" stroke="#111" stroke-width="2.80" style="text-rendering:geometricPrecision" font-family='"Liberation Sans", sans-serif' textLength="261.00" lengthAdjust="spacingAndGlyphs">14:40:40</text>
<text transform="translate(111.60,254.10) rotate(-90) scale(0.1)" font-size="60.00" text-anchor="end" fill="#111" stroke="#111" stroke-width="2.80" style="text-rendering:geometricPrecision" font-family='"Liberation Sans", sans-serif' textLength="261.00" lengthAdjust="spacingAndGlyphs">14:40:50</text>
<text transform="translate(123.08,254.10) rotate(-90) scale(0.1)" font-size="60.00" text-anchor="end" fill="#111" stroke="#111" stroke-width="2.80" style="text-rendering:geometricPrecision" font-family='"Liberation Sans", sans-serif' textLength="261.00" lengthAdjust="spacingAndGlyphs">14:41:00</text>
<text transform="translate(134.55,254.10) rotate(-90) scale(0.1)" font-size="60.00" text-anchor="end" fill="#111" stroke="#111" stroke-width="2.80" style="text-rendering:geometricPrecision" font-family='"Liberation Sans", sans-serif' textLength="261.00" lengthAdjust="spacingAndGlyphs">14:41:10</text>
<text transform="translate(146.03,254.10) rotate(-90) scale(0.1)" font-size="60.00" text-anchor="end" fill="#111" stroke="#111" stroke-width="2.80" style="text-rendering:geometricPrecision" font-family='"Liberation Sans", sans-serif' textLength="261.00" lengthAdjust="spacingAndGlyphs">14:41:20</text>
<text transform="translate(157.50,254.10) rotate(-90) scale(0.1)" font-size="60.00" text-anchor="end" fill="#111" stroke="#111" stroke-width="2.80" style="text-rendering:geometricPrecision" font-family='"Liberation Sans", sans-serif' textLength="261.00" lengthAdjust="spacingAndGlyphs">14:41:30</text>
<text transform="translate(168.97,254.10) rotate(-90) scale(0.1)" font-size="60.00" text-anchor="end" fill="#111" stroke="#111" stroke-width="2.80" style="text-rendering:geometricPrecision" font-family='"Liberation Sans", sans-serif' textLength="261.00" lengthAdjust="spacingAndGlyphs">14:41:40</text>
<text transform="translate(180.45,254.10) rotate(-90) scale(0.1)" font-size="60.00" text-anchor="end" fill="#111" stroke="#111" stroke-width="2.80" style="text-rendering:geometricPrecision" font-family='"Liberation Sans", sans-serif' textLength="261.00" lengthAdjust="spacingAndGlyphs">14:41:50</text>
<text transform="translate(191.92,254.10) rotate(-90) scale(0.1)" font-size="60.00" text-anchor="end" fill="#111" stroke="#111" stroke-width="2.80" style="text-rendering:geometricPrecision" font-family='"Liberation Sans", sans-serif' textLength="261.00" lengthAdjust="spacingAndGlyphs">14:42:00</text>
<text transform="translate(203.40,254.10) rotate(-90) scale(0.1)" font-size="60.00" text-anchor="end" fill="#111" stroke="#111" stroke-width="2.80" style="text-rendering:geometricPrecision" font-family='"Liberation Sans", sans-serif' textLength="261.00" lengthAdjust="spacingAndGlyphs">14:42:10</text>
<text transform="translate(214.87,254.10) rotate(-90) scale(0.1)" font-size="60.00" text-anchor="end" fill="#111" stroke="#111" stroke-width="2.80" style="text-rendering:geometricPrecision" font-family='"Liberation Sans", sans-serif' textLength="261.00" lengthAdjust="spacingAndGlyphs">14:42:20</text>
<text transform="translate(226.34,254.10) rotate(-90) scale(0.1)" font-size="60.00" text-anchor="end" fill="#111" stroke="#111" stroke-width="2.80" style="text-rendering:geometricPrecision" font-family='"Liberation Sans", sans-serif' textLength="261.00" lengthAdjust="spacingAndGlyphs">14:42:30</text>
<text transform="translate(237.82,254.10) rotate(-90) scale(0.1)" font-size="60.00" text-anchor="end" fill="#111" stroke="#111" stroke-width="2.80" style="text-rendering:geometricPrecision" font-family='"Liberation Sans", sans-serif' textLength="261.00" lengthAdjust="spacingAndGlyphs">14:42:40</text>
<text transform="translate(249.29,254.10) rotate(-90) scale(0.1)" font-size="60.00" text-anchor="end" fill="#111" stroke="#111" stroke-width="2.80" style="text-rendering:geometricPrecision" font-family='"Liberation Sans", sans-serif' textLength="261.00" lengthAdjust="spacingAndGlyphs">14:42:50</text>
<text transform="translate(260.77,254.10) rotate(-90) scale(0.1)" font-size="60.00" text-anchor="end" fill="#111" stroke="#111" stroke-width="2.80" style="text-rendering:geometricPrecision" font-family='"Liberation Sans", sans-serif' textLength="261.00" lengthAdjust="spacingAndGlyphs">14:43:00</text>
<text transform="translate(308.66,254.00) rotate(-90) scale(0.1)" font-size="60.00" text-anchor="end" fill="#111" stroke="#111" stroke-width="2.80" style="text-rendering:geometricPrecision" font-family='"Liberation Sans", sans-serif' textLength="262.00" lengthAdjust="spacingAndGlyphs">14:39:50</text>
<text transform="translate(320.88,254.00) rotate(-90) scale(0.1)" font-size="60.00" text-anchor="end" fill="#111" stroke="#111" stroke-width="2.80" style="text-rendering:geometricPrecision" font-family='"Liberation Sans", sans-serif' textLength="262.00" lengthAdjust="spacingAndGlyphs">14:40:00</text>
<text transform="translate(333.09,254.00) rotate(-90) scale(0.1)" font-size="60.00" text-anchor="end" fill="#111" stroke="#111" stroke-width="2.80" style="text-rendering:geometricPrecision" font-family='"Liberation Sans", sans-serif' textLength="262.00" lengthAdjust="spacingAndGlyphs">14:40:10</text>
<text transform="translate(345.31,254.00) rotate(-90) scale(0.1)" font-size="60.00" text-anchor="end" fill="#111" stroke="#111" stroke-width="2.80" style="text-rendering:geometricPrecision" font-family='"Liberation Sans", sans-serif' textLength="262.00" lengthAdjust="spacingAndGlyphs">14:40:20</text>
<text transform="translate(357.52,254.00) rotate(-90) scale(0.1)" font-size="60.00" text-anchor="end" fill="#111" stroke="#111" stroke-width="2.80" style="text-rendering:geometricPrecision" font-family='"Liberation Sans", sans-serif' textLength="262.00" lengthAdjust="spacingAndGlyphs">14:40:30</text>
<text transform="translate(369.74,254.00) rotate(-90) scale(0.1)" font-size="60.00" text-anchor="end" fill="#111" stroke="#111" stroke-width="2.80" style="text-rendering:geometricPrecision" font-family='"Liberation Sans", sans-serif' textLength="262.00" lengthAdjust="spacingAndGlyphs">14:40:40</text>
<text transform="translate(381.96,254.00) rotate(-90) scale(0.1)" font-size="60.00" text-anchor="end" fill="#111" stroke="#111" stroke-width="2.80" style="text-rendering:geometricPrecision" font-family='"Liberation Sans", sans-serif' textLength="262.00" lengthAdjust="spacingAndGlyphs">14:40:50</text>
<text transform="translate(394.17,254.00) rotate(-90) scale(0.1)" font-size="60.00" text-anchor="end" fill="#111" stroke="#111" stroke-width="2.80" style="text-rendering:geometricPrecision" font-family='"Liberation Sans", sans-serif' textLength="262.00" lengthAdjust="spacingAndGlyphs">14:41:00</text>
<text transform="translate(406.39,254.00) rotate(-90) scale(0.1)" font-size="60.00" text-anchor="end" fill="#111" stroke="#111" stroke-width="2.80" style="text-rendering:geometricPrecision" font-family='"Liberation Sans", sans-serif' textLength="262.00" lengthAdjust="spacingAndGlyphs">14:41:10</text>
<text transform="translate(418.60,254.00) rotate(-90) scale(0.1)" font-size="60.00" text-anchor="end" fill="#111" stroke="#111" stroke-width="2.80" style="text-rendering:geometricPrecision" font-family='"Liberation Sans", sans-serif' textLength="262.00" lengthAdjust="spacingAndGlyphs">14:41:20</text>
<text transform="translate(430.82,254.00) rotate(-90) scale(0.1)" font-size="60.00" text-anchor="end" fill="#111" stroke="#111" stroke-width="2.80" style="text-rendering:geometricPrecision" font-family='"Liberation Sans", sans-serif' textLength="262.00" lengthAdjust="spacingAndGlyphs">14:41:30</text>
<text transform="translate(443.04,254.00) rotate(-90) scale(0.1)" font-size="60.00" text-anchor="end" fill="#111" stroke="#111" stroke-width="2.80" style="text-rendering:geometricPrecision" font-family='"Liberation Sans", sans-serif' textLength="262.00" lengthAdjust="spacingAndGlyphs">14:41:40</text>
<text transform="translate(455.25,254.00) rotate(-90) scale(0.1)" font-size="60.00" text-anchor="end" fill="#111" stroke="#111" stroke-width="2.80" style="text-rendering:geometricPrecision" font-family='"Liberation Sans", sans-serif' textLength="262.00" lengthAdjust="spacingAndGlyphs">14:41:50</text>
<text transform="translate(467.47,254.00) rotate(-90) scale(0.1)" font-size="60.00" text-anchor="end" fill="#111" stroke="#111" stroke-width="2.80" style="text-rendering:geometricPrecision" font-family='"Liberation Sans", sans-serif' textLength="262.00" lengthAdjust="spacingAndGlyphs">14:42:00</text>
<text transform="translate(479.68,254.00) rotate(-90) scale(0.1)" font-size="60.00" text-anchor="end" fill="#111" stroke="#111" stroke-width="2.80" style="text-rendering:geometricPrecision" font-family='"Liberation Sans", sans-serif' textLength="262.00" lengthAdjust="spacingAndGlyphs">14:42:10</text>
<text transform="translate(491.90,254.00) rotate(-90) scale(0.1)" font-size="60.00" text-anchor="end" fill="#111" stroke="#111" stroke-width="2.80" style="text-rendering:geometricPrecision" font-family='"Liberation Sans", sans-serif' textLength="262.00" lengthAdjust="spacingAndGlyphs">14:42:20</text>
<text transform="translate(504.12,254.00) rotate(-90) scale(0.1)" font-size="60.00" text-anchor="end" fill="#111" stroke="#111" stroke-width="2.80" style="text-rendering:geometricPrecision" font-family='"Liberation Sans", sans-serif' textLength="262.00" lengthAdjust="spacingAndGlyphs">14:42:30</text>
<text transform="translate(516.33,254.00) rotate(-90) scale(0.1)" font-size="60.00" text-anchor="end" fill="#111" stroke="#111" stroke-width="2.80" style="text-rendering:geometricPrecision" font-family='"Liberation Sans", sans-serif' textLength="262.00" lengthAdjust="spacingAndGlyphs">14:42:40</text>
<text transform="translate(528.55,254.00) rotate(-90) scale(0.1)" font-size="60.00" text-anchor="end" fill="#111" stroke="#111" stroke-width="2.80" style="text-rendering:geometricPrecision" font-family='"Liberation Sans", sans-serif' textLength="262.00" lengthAdjust="spacingAndGlyphs">14:42:50</text>
<text transform="translate(540.76,254.00) rotate(-90) scale(0.1)" font-size="60.00" text-anchor="end" fill="#111" stroke="#111" stroke-width="2.80" style="text-rendering:geometricPrecision" font-family='"Liberation Sans", sans-serif' textLength="262.00" lengthAdjust="spacingAndGlyphs">14:43:00</text>
<text transform="translate(150.35,287.40) scale(0.1)" font-size="66.00" text-anchor="middle" fill="#111" stroke="#111" stroke-width="2.80" style="text-rendering:geometricPrecision" font-family='"Liberation Sans", sans-serif' textLength="144.00" lengthAdjust="spacingAndGlyphs">Time</text>
<text transform="translate(423.40,287.40) scale(0.1)" font-size="66.00" text-anchor="middle" fill="#111" stroke="#111" stroke-width="2.80" style="text-rendering:geometricPrecision" font-family='"Liberation Sans", sans-serif' textLength="148.00" lengthAdjust="spacingAndGlyphs">Time</text>
<text transform="translate(140.10,310.30) scale(0.1)" font-size="112.00" text-anchor="middle" fill="#111" stroke="#111" stroke-width="4.50" style="text-rendering:geometricPrecision" font-family='"Liberation Serif", serif' textLength="126.00" lengthAdjust="spacingAndGlyphs">(a)</text>
<text transform="translate(412.45,307.10) scale(0.1)" font-size="110.00" text-anchor="middle" fill="#111" stroke="#111" stroke-width="4.50" style="text-rendering:geometricPrecision" font-family='"Liberation Serif", serif' textLength="136.00" lengthAdjust="spacingAndGlyphs">(b)</text>
</svg>
</body></html>
